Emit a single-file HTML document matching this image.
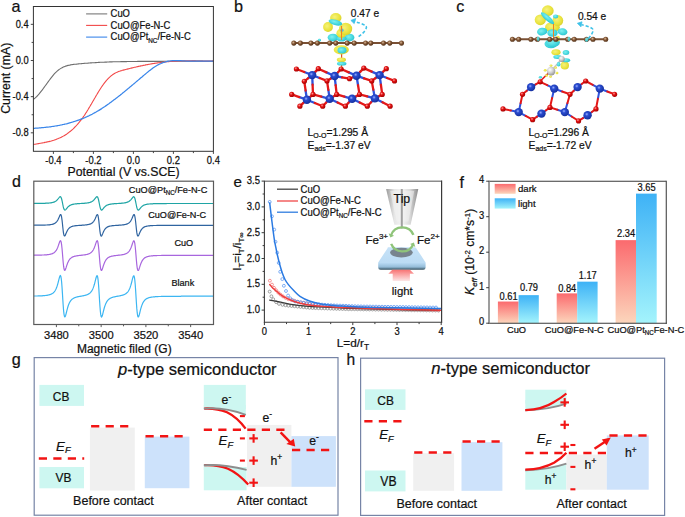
<!DOCTYPE html>
<html><head><meta charset="utf-8"><style>
html,body{margin:0;padding:0;background:#fff;}
svg{display:block;}
text{font-family:"Liberation Sans",sans-serif;stroke:#111;stroke-width:0.22px;paint-order:stroke;}
</style></head><body>
<svg width="685" height="517" viewBox="0 0 685 517">
<defs><radialGradient id="gCu" cx="0.4" cy="0.38" r="0.68"><stop offset="0" stop-color="#9ab0ff"/><stop offset="0.3" stop-color="#2a4cd0"/><stop offset="1" stop-color="#122c98"/></radialGradient>
<radialGradient id="gO" cx="0.38" cy="0.35" r="0.7"><stop offset="0" stop-color="#ff9a9a"/><stop offset="0.4" stop-color="#e01010"/><stop offset="1" stop-color="#a00000"/></radialGradient>
<radialGradient id="gC" cx="0.4" cy="0.38" r="0.7"><stop offset="0" stop-color="#d8b898"/><stop offset="0.45" stop-color="#7e5232"/><stop offset="1" stop-color="#4a2c14"/></radialGradient>
<radialGradient id="gPt" cx="0.38" cy="0.35" r="0.7"><stop offset="0" stop-color="#ffffff"/><stop offset="0.5" stop-color="#d0d0d0"/><stop offset="1" stop-color="#909090"/></radialGradient>
<radialGradient id="gY" cx="0.4" cy="0.4" r="0.65"><stop offset="0" stop-color="#f6f27a"/><stop offset="0.7" stop-color="#e8e23a"/><stop offset="1" stop-color="#d8cf30"/></radialGradient>
<radialGradient id="gCy" cx="0.4" cy="0.4" r="0.65"><stop offset="0" stop-color="#7ff0f0"/><stop offset="0.7" stop-color="#3fd4dc"/><stop offset="1" stop-color="#30c0cc"/></radialGradient><linearGradient id="gTip" x1="0" x2="1" y1="0" y2="0"><stop offset="0" stop-color="#9a9a9a"/><stop offset="0.25" stop-color="#e6e6e6"/><stop offset="0.5" stop-color="#f4f4f4"/><stop offset="0.75" stop-color="#d8d8d8"/><stop offset="1" stop-color="#8a8a8a"/></linearGradient>
<linearGradient id="gPlat" x1="0" x2="0" y1="0" y2="1"><stop offset="0" stop-color="#c6e2f8"/><stop offset="0.68" stop-color="#bcdcf4"/><stop offset="0.72" stop-color="#b4d6f0"/><stop offset="0.88" stop-color="#94bcd8"/><stop offset="1" stop-color="#34505f"/></linearGradient>
<linearGradient id="gLight" x1="0" x2="0" y1="0" y2="1"><stop offset="0" stop-color="#f87474"/><stop offset="1" stop-color="#fde6e6"/></linearGradient><linearGradient id="gDark" x1="0" x2="0" y1="0" y2="1"><stop offset="0" stop-color="#fb6a6e"/><stop offset="1" stop-color="#fcd6bc"/></linearGradient>
<linearGradient id="gLite" x1="0" x2="0" y1="0" y2="1"><stop offset="0" stop-color="#3eb2f6"/><stop offset="1" stop-color="#a4f4fc"/></linearGradient></defs><rect width="685" height="517" fill="#fff"/>
<polyline points="33.7,99.1 34.5,98.5 35.3,97.9 36.1,97.1 36.9,96.3 37.7,95.5 38.5,94.6 39.3,93.7 40.1,92.7 40.9,91.7 41.7,90.7 42.5,89.6 43.3,88.5 44.1,87.4 44.9,86.3 45.7,85.2 46.5,84.1 47.3,83.0 48.1,81.9 48.9,80.8 49.7,79.7 50.5,78.6 51.3,77.6 52.1,76.6 52.9,75.6 53.7,74.6 54.5,73.7 55.3,72.9 56.1,72.1 56.9,71.4 57.7,70.7 58.5,70.0 59.3,69.4 60.1,68.9 60.9,68.4 61.7,67.9 62.5,67.5 63.3,67.1 64.1,66.7 64.9,66.4 65.7,66.1 66.5,65.9 67.3,65.6 68.1,65.4 68.9,65.2 69.7,65.1 70.5,64.9 71.3,64.8 72.1,64.6 72.9,64.5 73.7,64.4 74.5,64.3 75.3,64.2 76.1,64.2 76.9,64.1 77.7,64.0 78.5,63.9 79.3,63.8 80.1,63.8 80.9,63.7 81.7,63.6 82.5,63.5 83.3,63.5 84.1,63.4 84.9,63.3 85.7,63.3 86.5,63.2 87.3,63.2 88.1,63.1 88.9,63.0 89.7,63.0 90.5,62.9 91.3,62.9 92.1,62.8 92.9,62.8 93.7,62.7 94.5,62.7 95.3,62.6 96.1,62.6 96.9,62.5 97.7,62.5 98.5,62.4 99.3,62.4 100.1,62.3 100.9,62.3 101.7,62.3 102.5,62.2 103.3,62.2 104.1,62.2 104.9,62.1 105.7,62.1 106.5,62.1 107.3,62.0 108.1,62.0 108.9,62.0 109.7,61.9 110.5,61.9 111.3,61.9 112.1,61.9 112.9,61.8 113.7,61.8 114.5,61.8 115.3,61.8 116.1,61.8 116.9,61.7 117.7,61.7 118.5,61.7 119.3,61.7 120.1,61.7 120.9,61.6 121.7,61.6 122.5,61.6 123.3,61.6 124.1,61.6 124.9,61.6 125.7,61.6 126.5,61.6 127.3,61.5 128.1,61.5 128.9,61.5 129.7,61.5 130.5,61.5 131.3,61.5 132.1,61.5 132.9,61.5 133.7,61.5 134.5,61.5 135.3,61.5 136.1,61.5 136.9,61.5 137.7,61.4 138.5,61.4 139.3,61.4 140.1,61.4 140.9,61.4 141.7,61.4 142.5,61.4 143.3,61.4 144.1,61.4 144.9,61.4 145.7,61.4 146.5,61.4 147.3,61.4 148.1,61.4 148.9,61.4 149.7,61.4 150.5,61.4 151.3,61.4 152.1,61.4 152.9,61.4 153.7,61.4 154.5,61.4 155.3,61.4 156.1,61.4 156.9,61.4 157.7,61.4 158.5,61.4 159.3,61.4 160.1,61.4 160.9,61.4 161.7,61.4 162.5,61.4 163.3,61.4 164.1,61.3 164.9,61.3 165.7,61.3 166.5,61.3 167.3,61.3 168.1,61.3 168.9,61.3 169.7,61.3 170.5,61.3 171.3,61.3 172.1,61.3 172.9,61.3 173.7,61.3 174.5,61.3 175.3,61.3 176.1,61.3 176.9,61.3 177.7,61.2 178.5,61.2 179.3,61.2 180.1,61.2 180.9,61.2 181.7,61.2 182.5,61.2 183.3,61.2 184.1,61.2 184.9,61.2 185.7,61.2 186.5,61.2 187.3,61.2 188.1,61.2 188.9,61.2 189.7,61.2 190.5,61.2 191.3,61.2 192.1,61.1 192.9,61.1 193.7,61.1 194.5,61.1 195.3,61.1 196.1,61.1 196.9,61.1 197.7,61.1 198.5,61.1 199.3,61.1 200.1,61.1 200.9,61.1 201.7,61.1 202.5,61.1 203.3,61.2 204.1,61.2 204.9,61.2 205.7,61.2 206.5,61.2 207.3,61.2 208.1,61.2 208.9,61.2 209.7,61.2 210.5,61.2 211.3,61.2 212.1,61.2 212.9,61.3" fill="none" stroke="#6e6e6e" stroke-width="1.1" stroke-linejoin="round" stroke-linecap="round" />
<polyline points="33.7,144.5 34.5,144.3 35.3,144.2 36.1,144.0 36.9,143.9 37.7,143.7 38.5,143.6 39.3,143.5 40.1,143.3 40.9,143.2 41.7,143.0 42.5,142.9 43.3,142.7 44.1,142.6 44.9,142.4 45.7,142.3 46.5,142.1 47.3,141.9 48.1,141.8 48.9,141.6 49.7,141.4 50.5,141.2 51.3,141.0 52.1,140.7 52.9,140.5 53.7,140.3 54.5,140.0 55.3,139.7 56.1,139.4 56.9,139.1 57.7,138.8 58.5,138.5 59.3,138.1 60.1,137.8 60.9,137.4 61.7,137.0 62.5,136.6 63.3,136.1 64.1,135.7 64.9,135.2 65.7,134.7 66.5,134.2 67.3,133.6 68.1,133.0 68.9,132.4 69.7,131.8 70.5,131.2 71.3,130.5 72.1,129.8 72.9,129.1 73.7,128.3 74.5,127.5 75.3,126.7 76.1,125.9 76.9,125.0 77.7,124.1 78.5,123.2 79.3,122.2 80.1,121.2 80.9,120.2 81.7,119.1 82.5,118.1 83.3,116.9 84.1,115.8 84.9,114.6 85.7,113.3 86.5,112.1 87.3,110.8 88.1,109.5 88.9,108.1 89.7,106.8 90.5,105.4 91.3,104.1 92.1,102.7 92.9,101.3 93.7,99.9 94.5,98.5 95.3,97.2 96.1,95.8 96.9,94.5 97.7,93.1 98.5,91.8 99.3,90.5 100.1,89.2 100.9,88.0 101.7,86.8 102.5,85.6 103.3,84.5 104.1,83.4 104.9,82.4 105.7,81.4 106.5,80.4 107.3,79.5 108.1,78.7 108.9,77.8 109.7,77.1 110.5,76.4 111.3,75.7 112.1,75.1 112.9,74.5 113.7,74.0 114.5,73.5 115.3,73.1 116.1,72.6 116.9,72.3 117.7,71.9 118.5,71.6 119.3,71.3 120.1,71.1 120.9,70.8 121.7,70.6 122.5,70.3 123.3,70.1 124.1,69.9 124.9,69.7 125.7,69.5 126.5,69.3 127.3,69.1 128.1,68.9 128.9,68.7 129.7,68.5 130.5,68.3 131.3,68.1 132.1,67.9 132.9,67.7 133.7,67.5 134.5,67.3 135.3,67.2 136.1,67.0 136.9,66.8 137.7,66.6 138.5,66.4 139.3,66.3 140.1,66.1 140.9,65.9 141.7,65.7 142.5,65.6 143.3,65.4 144.1,65.2 144.9,65.1 145.7,64.9 146.5,64.8 147.3,64.6 148.1,64.5 148.9,64.3 149.7,64.2 150.5,64.0 151.3,63.9 152.1,63.8 152.9,63.6 153.7,63.5 154.5,63.4 155.3,63.3 156.1,63.1 156.9,63.0 157.7,62.9 158.5,62.8 159.3,62.7 160.1,62.6 160.9,62.5 161.7,62.4 162.5,62.3 163.3,62.2 164.1,62.1 164.9,62.0 165.7,61.9 166.5,61.8 167.3,61.8 168.1,61.7 168.9,61.6 169.7,61.5 170.5,61.5 171.3,61.4 172.1,61.4 172.9,61.3 173.7,61.3 174.5,61.2 175.3,61.2 176.1,61.1 176.9,61.1 177.7,61.0 178.5,61.0 179.3,61.0 180.1,61.0 180.9,60.9 181.7,60.9 182.5,60.9 183.3,60.9 184.1,60.9 184.9,60.9 185.7,60.9 186.5,60.8 187.3,60.8 188.1,60.9 188.9,60.9 189.7,60.9 190.5,60.9 191.3,60.9 192.1,60.9 192.9,60.9 193.7,60.9 194.5,60.9 195.3,60.9 196.1,61.0 196.9,61.0 197.7,61.0 198.5,61.0 199.3,61.0 200.1,61.0 200.9,61.1 201.7,61.1 202.5,61.1 203.3,61.1 204.1,61.1 204.9,61.1 205.7,61.1 206.5,61.1 207.3,61.1 208.1,61.1 208.9,61.1 209.7,61.0 210.5,61.0 211.3,61.0 212.1,61.0 212.9,60.9" fill="none" stroke="#f24848" stroke-width="1.1" stroke-linejoin="round" stroke-linecap="round" />
<polyline points="33.7,128.3 34.5,128.3 35.3,128.2 36.1,128.2 36.9,128.1 37.7,128.0 38.5,128.0 39.3,127.9 40.1,127.9 40.9,127.8 41.7,127.7 42.5,127.6 43.3,127.6 44.1,127.5 44.9,127.4 45.7,127.3 46.5,127.2 47.3,127.1 48.1,127.1 48.9,127.0 49.7,126.9 50.5,126.8 51.3,126.6 52.1,126.5 52.9,126.4 53.7,126.3 54.5,126.2 55.3,126.0 56.1,125.9 56.9,125.8 57.7,125.6 58.5,125.5 59.3,125.3 60.1,125.2 60.9,125.0 61.7,124.9 62.5,124.7 63.3,124.5 64.1,124.3 64.9,124.1 65.7,124.0 66.5,123.8 67.3,123.6 68.1,123.3 68.9,123.1 69.7,122.9 70.5,122.7 71.3,122.5 72.1,122.2 72.9,122.0 73.7,121.7 74.5,121.5 75.3,121.2 76.1,121.0 76.9,120.7 77.7,120.4 78.5,120.1 79.3,119.8 80.1,119.5 80.9,119.2 81.7,118.9 82.5,118.6 83.3,118.3 84.1,117.9 84.9,117.6 85.7,117.2 86.5,116.9 87.3,116.5 88.1,116.1 88.9,115.8 89.7,115.4 90.5,115.0 91.3,114.6 92.1,114.2 92.9,113.7 93.7,113.3 94.5,112.9 95.3,112.4 96.1,112.0 96.9,111.5 97.7,111.0 98.5,110.6 99.3,110.1 100.1,109.6 100.9,109.1 101.7,108.6 102.5,108.0 103.3,107.5 104.1,107.0 104.9,106.5 105.7,105.9 106.5,105.4 107.3,104.8 108.1,104.2 108.9,103.7 109.7,103.1 110.5,102.5 111.3,101.9 112.1,101.3 112.9,100.7 113.7,100.1 114.5,99.5 115.3,98.9 116.1,98.3 116.9,97.7 117.7,97.1 118.5,96.4 119.3,95.8 120.1,95.2 120.9,94.5 121.7,93.9 122.5,93.2 123.3,92.6 124.1,91.9 124.9,91.3 125.7,90.6 126.5,90.0 127.3,89.3 128.1,88.6 128.9,88.0 129.7,87.3 130.5,86.6 131.3,86.0 132.1,85.3 132.9,84.6 133.7,83.9 134.5,83.3 135.3,82.6 136.1,81.9 136.9,81.2 137.7,80.6 138.5,79.9 139.3,79.2 140.1,78.5 140.9,77.8 141.7,77.2 142.5,76.5 143.3,75.8 144.1,75.1 144.9,74.4 145.7,73.8 146.5,73.1 147.3,72.4 148.1,71.8 148.9,71.1 149.7,70.5 150.5,69.9 151.3,69.3 152.1,68.7 152.9,68.1 153.7,67.5 154.5,67.0 155.3,66.5 156.1,66.0 156.9,65.5 157.7,65.0 158.5,64.6 159.3,64.2 160.1,63.8 160.9,63.5 161.7,63.1 162.5,62.8 163.3,62.5 164.1,62.3 164.9,62.0 165.7,61.8 166.5,61.6 167.3,61.4 168.1,61.2 168.9,61.1 169.7,61.0 170.5,60.9 171.3,60.8 172.1,60.7 172.9,60.7 173.7,60.6 174.5,60.6 175.3,60.6 176.1,60.6 176.9,60.6 177.7,60.6 178.5,60.6 179.3,60.6 180.1,60.7 180.9,60.7 181.7,60.8 182.5,60.8 183.3,60.8 184.1,60.9 184.9,60.9 185.7,61.0 186.5,61.0 187.3,61.0 188.1,61.1 188.9,61.1 189.7,61.1 190.5,61.1 191.3,61.1 192.1,61.2 192.9,61.2 193.7,61.2 194.5,61.2 195.3,61.2 196.1,61.1 196.9,61.1 197.7,61.1 198.5,61.1 199.3,61.1 200.1,61.1 200.9,61.1 201.7,61.1 202.5,61.1 203.3,61.0 204.1,61.0 204.9,61.0 205.7,61.0 206.5,61.0 207.3,61.0 208.1,61.0 208.9,61.0 209.7,61.0 210.5,61.0 211.3,61.0 212.1,61.0 212.9,61.0" fill="none" stroke="#3a86ea" stroke-width="1.25" stroke-linejoin="round" stroke-linecap="round" />
<rect x="33.4" y="6.5" width="180.0" height="144.8" fill="none" stroke="#333" stroke-width="1"/>
<line x1="53.40" y1="151.30" x2="53.40" y2="153.90" stroke="#333" stroke-width="0.9" />
<line x1="73.40" y1="151.30" x2="73.40" y2="153.10" stroke="#333" stroke-width="0.9" />
<line x1="93.40" y1="151.30" x2="93.40" y2="153.90" stroke="#333" stroke-width="0.9" />
<line x1="113.40" y1="151.30" x2="113.40" y2="153.10" stroke="#333" stroke-width="0.9" />
<line x1="133.40" y1="151.30" x2="133.40" y2="153.90" stroke="#333" stroke-width="0.9" />
<line x1="153.40" y1="151.30" x2="153.40" y2="153.10" stroke="#333" stroke-width="0.9" />
<line x1="173.40" y1="151.30" x2="173.40" y2="153.90" stroke="#333" stroke-width="0.9" />
<line x1="193.40" y1="151.30" x2="193.40" y2="153.10" stroke="#333" stroke-width="0.9" />
<line x1="213.40" y1="151.30" x2="213.40" y2="153.90" stroke="#333" stroke-width="0.9" />
<line x1="30.80" y1="24.34" x2="33.40" y2="24.34" stroke="#333" stroke-width="0.9" />
<line x1="31.60" y1="42.42" x2="33.40" y2="42.42" stroke="#333" stroke-width="0.9" />
<line x1="30.80" y1="60.50" x2="33.40" y2="60.50" stroke="#333" stroke-width="0.9" />
<line x1="31.60" y1="78.58" x2="33.40" y2="78.58" stroke="#333" stroke-width="0.9" />
<line x1="30.80" y1="96.66" x2="33.40" y2="96.66" stroke="#333" stroke-width="0.9" />
<line x1="31.60" y1="114.74" x2="33.40" y2="114.74" stroke="#333" stroke-width="0.9" />
<line x1="30.80" y1="132.82" x2="33.40" y2="132.82" stroke="#333" stroke-width="0.9" />
<text transform="translate(53.4,163.7) scale(1.0,1.14)" font-size="9.4" text-anchor="middle" fill="#111" >-0.4</text>
<text transform="translate(93.4,163.7) scale(1.0,1.14)" font-size="9.4" text-anchor="middle" fill="#111" >-0.2</text>
<text transform="translate(133.4,163.7) scale(1.0,1.14)" font-size="9.4" text-anchor="middle" fill="#111" >0.0</text>
<text transform="translate(173.4,163.7) scale(1.0,1.14)" font-size="9.4" text-anchor="middle" fill="#111" >0.2</text>
<text transform="translate(213.4,163.7) scale(1.0,1.14)" font-size="9.4" text-anchor="middle" fill="#111" >0.4</text>
<text transform="translate(28.6,27.5) scale(1.0,1.14)" font-size="9.3" text-anchor="end" fill="#111" >0.4</text>
<text transform="translate(28.6,63.7) scale(1.0,1.14)" font-size="9.3" text-anchor="end" fill="#111" >0.0</text>
<text transform="translate(28.6,99.9) scale(1.0,1.14)" font-size="9.3" text-anchor="end" fill="#111" >-0.4</text>
<text transform="translate(28.6,136.0) scale(1.0,1.14)" font-size="9.3" text-anchor="end" fill="#111" >-0.8</text>
<text x="123.6" y="175.8" font-size="12.3" text-anchor="middle" fill="#111" >Potential (V vs.SCE)</text>
<text transform="translate(10.2,78.3) rotate(-90)" font-size="12.3" text-anchor="middle" fill="#111">Current (mA)</text>
<line x1="86.10" y1="13.90" x2="107.20" y2="13.90" stroke="#777" stroke-width="1.1" />
<line x1="86.10" y1="25.40" x2="107.20" y2="25.40" stroke="#f24848" stroke-width="1.1" />
<line x1="86.10" y1="37.10" x2="107.20" y2="37.10" stroke="#3a86ea" stroke-width="1.1" />
<text transform="translate(110.6,17.1) scale(1.0,1.07)" font-size="9.4" text-anchor="start" fill="#111" >CuO</text>
<text transform="translate(110.6,28.7) scale(1.0,1.07)" font-size="9.4" text-anchor="start" fill="#111" >CuO@Fe-N-C</text>
<text transform="translate(110.6,40.3) scale(1.0,1.07)" font-size="9.4" text-anchor="start" fill="#111" >CuO@Pt<tspan font-size="6.3" dy="2.2">NC</tspan><tspan dy="-2.2">/Fe-N-C</tspan></text>
<text x="11.5" y="12.0" font-size="16.2" text-anchor="start" fill="#111" >a</text>
<text x="234.0" y="12.0" font-size="16.2" text-anchor="start" fill="#111" >b</text>
<line x1="312.20" y1="75.10" x2="304.30" y2="72.05" stroke="#2f52dc" stroke-width="2.3" stroke-linecap="round"/>
<line x1="304.30" y1="72.05" x2="296.40" y2="69.00" stroke="#e41818" stroke-width="2.3" stroke-linecap="round"/>
<line x1="312.20" y1="75.10" x2="315.25" y2="71.90" stroke="#2f52dc" stroke-width="2.3" stroke-linecap="round"/>
<line x1="315.25" y1="71.90" x2="318.30" y2="68.70" stroke="#e41818" stroke-width="2.3" stroke-linecap="round"/>
<line x1="312.20" y1="75.10" x2="308.25" y2="78.20" stroke="#2f52dc" stroke-width="2.3" stroke-linecap="round"/>
<line x1="308.25" y1="78.20" x2="304.30" y2="81.30" stroke="#e41818" stroke-width="2.3" stroke-linecap="round"/>
<line x1="312.20" y1="75.10" x2="319.60" y2="78.00" stroke="#2f52dc" stroke-width="2.3" stroke-linecap="round"/>
<line x1="319.60" y1="78.00" x2="327.00" y2="80.90" stroke="#e41818" stroke-width="2.3" stroke-linecap="round"/>
<line x1="312.20" y1="75.10" x2="312.60" y2="84.75" stroke="#2f52dc" stroke-width="2.3" stroke-linecap="round"/>
<line x1="312.60" y1="84.75" x2="313.00" y2="94.40" stroke="#e41818" stroke-width="2.3" stroke-linecap="round"/>
<line x1="334.60" y1="76.00" x2="326.45" y2="72.35" stroke="#2f52dc" stroke-width="2.3" stroke-linecap="round"/>
<line x1="326.45" y1="72.35" x2="318.30" y2="68.70" stroke="#e41818" stroke-width="2.3" stroke-linecap="round"/>
<line x1="334.60" y1="76.00" x2="337.85" y2="72.50" stroke="#2f52dc" stroke-width="2.3" stroke-linecap="round"/>
<line x1="337.85" y1="72.50" x2="341.10" y2="69.00" stroke="#e41818" stroke-width="2.3" stroke-linecap="round"/>
<line x1="334.60" y1="76.00" x2="330.80" y2="78.45" stroke="#2f52dc" stroke-width="2.3" stroke-linecap="round"/>
<line x1="330.80" y1="78.45" x2="327.00" y2="80.90" stroke="#e41818" stroke-width="2.3" stroke-linecap="round"/>
<line x1="334.60" y1="76.00" x2="342.05" y2="77.35" stroke="#2f52dc" stroke-width="2.3" stroke-linecap="round"/>
<line x1="342.05" y1="77.35" x2="349.50" y2="78.70" stroke="#e41818" stroke-width="2.3" stroke-linecap="round"/>
<line x1="334.60" y1="76.00" x2="335.65" y2="85.20" stroke="#2f52dc" stroke-width="2.3" stroke-linecap="round"/>
<line x1="335.65" y1="85.20" x2="336.70" y2="94.40" stroke="#e41818" stroke-width="2.3" stroke-linecap="round"/>
<line x1="356.50" y1="75.70" x2="348.80" y2="72.35" stroke="#2f52dc" stroke-width="2.3" stroke-linecap="round"/>
<line x1="348.80" y1="72.35" x2="341.10" y2="69.00" stroke="#e41818" stroke-width="2.3" stroke-linecap="round"/>
<line x1="356.50" y1="75.70" x2="360.15" y2="71.90" stroke="#2f52dc" stroke-width="2.3" stroke-linecap="round"/>
<line x1="360.15" y1="71.90" x2="363.80" y2="68.10" stroke="#e41818" stroke-width="2.3" stroke-linecap="round"/>
<line x1="356.50" y1="75.70" x2="353.00" y2="77.20" stroke="#2f52dc" stroke-width="2.3" stroke-linecap="round"/>
<line x1="353.00" y1="77.20" x2="349.50" y2="78.70" stroke="#e41818" stroke-width="2.3" stroke-linecap="round"/>
<line x1="356.50" y1="75.70" x2="364.10" y2="78.30" stroke="#2f52dc" stroke-width="2.3" stroke-linecap="round"/>
<line x1="364.10" y1="78.30" x2="371.70" y2="80.90" stroke="#e41818" stroke-width="2.3" stroke-linecap="round"/>
<line x1="356.50" y1="75.70" x2="358.00" y2="85.05" stroke="#2f52dc" stroke-width="2.3" stroke-linecap="round"/>
<line x1="358.00" y1="85.05" x2="359.50" y2="94.40" stroke="#e41818" stroke-width="2.3" stroke-linecap="round"/>
<line x1="379.60" y1="75.10" x2="371.70" y2="71.60" stroke="#2f52dc" stroke-width="2.3" stroke-linecap="round"/>
<line x1="371.70" y1="71.60" x2="363.80" y2="68.10" stroke="#e41818" stroke-width="2.3" stroke-linecap="round"/>
<line x1="379.60" y1="75.10" x2="382.95" y2="71.90" stroke="#2f52dc" stroke-width="2.3" stroke-linecap="round"/>
<line x1="382.95" y1="71.90" x2="386.30" y2="68.70" stroke="#e41818" stroke-width="2.3" stroke-linecap="round"/>
<line x1="379.60" y1="75.10" x2="375.65" y2="78.00" stroke="#2f52dc" stroke-width="2.3" stroke-linecap="round"/>
<line x1="375.65" y1="78.00" x2="371.70" y2="80.90" stroke="#e41818" stroke-width="2.3" stroke-linecap="round"/>
<line x1="379.60" y1="75.10" x2="387.05" y2="78.00" stroke="#2f52dc" stroke-width="2.3" stroke-linecap="round"/>
<line x1="387.05" y1="78.00" x2="394.50" y2="80.90" stroke="#e41818" stroke-width="2.3" stroke-linecap="round"/>
<line x1="379.60" y1="75.10" x2="380.90" y2="84.75" stroke="#2f52dc" stroke-width="2.3" stroke-linecap="round"/>
<line x1="380.90" y1="84.75" x2="382.20" y2="94.40" stroke="#e41818" stroke-width="2.3" stroke-linecap="round"/>
<line x1="306.90" y1="99.70" x2="305.60" y2="90.50" stroke="#2f52dc" stroke-width="2.3" stroke-linecap="round"/>
<line x1="305.60" y1="90.50" x2="304.30" y2="81.30" stroke="#e41818" stroke-width="2.3" stroke-linecap="round"/>
<line x1="306.90" y1="99.70" x2="309.95" y2="97.05" stroke="#2f52dc" stroke-width="2.3" stroke-linecap="round"/>
<line x1="309.95" y1="97.05" x2="313.00" y2="94.40" stroke="#e41818" stroke-width="2.3" stroke-linecap="round"/>
<line x1="306.90" y1="99.70" x2="299.30" y2="97.05" stroke="#2f52dc" stroke-width="2.3" stroke-linecap="round"/>
<line x1="299.30" y1="97.05" x2="291.70" y2="94.40" stroke="#e41818" stroke-width="2.3" stroke-linecap="round"/>
<line x1="306.90" y1="99.70" x2="303.40" y2="102.95" stroke="#2f52dc" stroke-width="2.3" stroke-linecap="round"/>
<line x1="303.40" y1="102.95" x2="299.90" y2="106.20" stroke="#e41818" stroke-width="2.3" stroke-linecap="round"/>
<line x1="306.90" y1="99.70" x2="314.80" y2="102.95" stroke="#2f52dc" stroke-width="2.3" stroke-linecap="round"/>
<line x1="314.80" y1="102.95" x2="322.70" y2="106.20" stroke="#e41818" stroke-width="2.3" stroke-linecap="round"/>
<line x1="329.70" y1="98.80" x2="328.35" y2="89.85" stroke="#2f52dc" stroke-width="2.3" stroke-linecap="round"/>
<line x1="328.35" y1="89.85" x2="327.00" y2="80.90" stroke="#e41818" stroke-width="2.3" stroke-linecap="round"/>
<line x1="329.70" y1="98.80" x2="321.35" y2="96.60" stroke="#2f52dc" stroke-width="2.3" stroke-linecap="round"/>
<line x1="321.35" y1="96.60" x2="313.00" y2="94.40" stroke="#e41818" stroke-width="2.3" stroke-linecap="round"/>
<line x1="329.70" y1="98.80" x2="333.20" y2="96.60" stroke="#2f52dc" stroke-width="2.3" stroke-linecap="round"/>
<line x1="333.20" y1="96.60" x2="336.70" y2="94.40" stroke="#e41818" stroke-width="2.3" stroke-linecap="round"/>
<line x1="329.70" y1="98.80" x2="326.20" y2="102.50" stroke="#2f52dc" stroke-width="2.3" stroke-linecap="round"/>
<line x1="326.20" y1="102.50" x2="322.70" y2="106.20" stroke="#e41818" stroke-width="2.3" stroke-linecap="round"/>
<line x1="329.70" y1="98.80" x2="337.55" y2="102.50" stroke="#2f52dc" stroke-width="2.3" stroke-linecap="round"/>
<line x1="337.55" y1="102.50" x2="345.40" y2="106.20" stroke="#e41818" stroke-width="2.3" stroke-linecap="round"/>
<line x1="352.10" y1="98.80" x2="344.40" y2="96.60" stroke="#2f52dc" stroke-width="2.3" stroke-linecap="round"/>
<line x1="344.40" y1="96.60" x2="336.70" y2="94.40" stroke="#e41818" stroke-width="2.3" stroke-linecap="round"/>
<line x1="352.10" y1="98.80" x2="355.80" y2="96.60" stroke="#2f52dc" stroke-width="2.3" stroke-linecap="round"/>
<line x1="355.80" y1="96.60" x2="359.50" y2="94.40" stroke="#e41818" stroke-width="2.3" stroke-linecap="round"/>
<line x1="352.10" y1="98.80" x2="348.75" y2="102.50" stroke="#2f52dc" stroke-width="2.3" stroke-linecap="round"/>
<line x1="348.75" y1="102.50" x2="345.40" y2="106.20" stroke="#e41818" stroke-width="2.3" stroke-linecap="round"/>
<line x1="352.10" y1="98.80" x2="359.70" y2="102.50" stroke="#2f52dc" stroke-width="2.3" stroke-linecap="round"/>
<line x1="359.70" y1="102.50" x2="367.30" y2="106.20" stroke="#e41818" stroke-width="2.3" stroke-linecap="round"/>
<line x1="374.90" y1="98.40" x2="373.30" y2="89.65" stroke="#2f52dc" stroke-width="2.3" stroke-linecap="round"/>
<line x1="373.30" y1="89.65" x2="371.70" y2="80.90" stroke="#e41818" stroke-width="2.3" stroke-linecap="round"/>
<line x1="374.90" y1="98.40" x2="367.20" y2="96.40" stroke="#2f52dc" stroke-width="2.3" stroke-linecap="round"/>
<line x1="367.20" y1="96.40" x2="359.50" y2="94.40" stroke="#e41818" stroke-width="2.3" stroke-linecap="round"/>
<line x1="374.90" y1="98.40" x2="378.55" y2="96.40" stroke="#2f52dc" stroke-width="2.3" stroke-linecap="round"/>
<line x1="378.55" y1="96.40" x2="382.20" y2="94.40" stroke="#e41818" stroke-width="2.3" stroke-linecap="round"/>
<line x1="374.90" y1="98.40" x2="371.10" y2="102.30" stroke="#2f52dc" stroke-width="2.3" stroke-linecap="round"/>
<line x1="371.10" y1="102.30" x2="367.30" y2="106.20" stroke="#e41818" stroke-width="2.3" stroke-linecap="round"/>
<line x1="374.90" y1="98.40" x2="382.50" y2="102.30" stroke="#2f52dc" stroke-width="2.3" stroke-linecap="round"/>
<line x1="382.50" y1="102.30" x2="390.10" y2="106.20" stroke="#e41818" stroke-width="2.3" stroke-linecap="round"/>
<circle cx="363.8" cy="68.1" r="2.6" fill="url(#gO)"/>
<circle cx="318.3" cy="68.7" r="2.6" fill="url(#gO)"/>
<circle cx="386.3" cy="68.7" r="2.6" fill="url(#gO)"/>
<circle cx="296.4" cy="69.0" r="2.6" fill="url(#gO)"/>
<circle cx="341.1" cy="69.0" r="2.6" fill="url(#gO)"/>
<circle cx="312.2" cy="75.1" r="4.2" fill="url(#gCu)"/>
<circle cx="379.6" cy="75.1" r="4.2" fill="url(#gCu)"/>
<circle cx="356.5" cy="75.7" r="4.2" fill="url(#gCu)"/>
<circle cx="334.6" cy="76.0" r="4.2" fill="url(#gCu)"/>
<circle cx="349.5" cy="78.7" r="2.6" fill="url(#gO)"/>
<circle cx="327.0" cy="80.9" r="2.6" fill="url(#gO)"/>
<circle cx="371.7" cy="80.9" r="2.6" fill="url(#gO)"/>
<circle cx="394.5" cy="80.9" r="2.6" fill="url(#gO)"/>
<circle cx="304.3" cy="81.3" r="2.6" fill="url(#gO)"/>
<circle cx="313.0" cy="94.4" r="2.6" fill="url(#gO)"/>
<circle cx="336.7" cy="94.4" r="2.6" fill="url(#gO)"/>
<circle cx="359.5" cy="94.4" r="2.6" fill="url(#gO)"/>
<circle cx="382.2" cy="94.4" r="2.6" fill="url(#gO)"/>
<circle cx="291.7" cy="94.4" r="2.6" fill="url(#gO)"/>
<circle cx="374.9" cy="98.4" r="4.2" fill="url(#gCu)"/>
<circle cx="329.7" cy="98.8" r="4.2" fill="url(#gCu)"/>
<circle cx="352.1" cy="98.8" r="4.2" fill="url(#gCu)"/>
<circle cx="306.9" cy="99.7" r="4.2" fill="url(#gCu)"/>
<circle cx="299.9" cy="106.2" r="2.6" fill="url(#gO)"/>
<circle cx="322.7" cy="106.2" r="2.6" fill="url(#gO)"/>
<circle cx="345.4" cy="106.2" r="2.6" fill="url(#gO)"/>
<circle cx="367.3" cy="106.2" r="2.6" fill="url(#gO)"/>
<circle cx="390.1" cy="106.2" r="2.6" fill="url(#gO)"/>
<line x1="341.60" y1="53.00" x2="341.60" y2="68.00" stroke="#e05020" stroke-width="1.2" />
<ellipse cx="341.4" cy="59.7" rx="4.6" ry="2.3" fill="url(#gY)" transform="rotate(0 341.4 59.7)" opacity="1"/>
<ellipse cx="341.7" cy="63.7" rx="4.8" ry="1.9" fill="url(#gCy)" transform="rotate(0 341.7 63.7)" opacity="1"/>
<ellipse cx="341.3" cy="49.8" rx="7.6" ry="4.6" fill="url(#gY)" transform="rotate(0 341.3 49.8)" opacity="1"/>
<ellipse cx="342.0" cy="50.3" rx="4.5" ry="3.3" fill="url(#gCy)" transform="rotate(0 342.0 50.3)" opacity="1"/>
<ellipse cx="333.0" cy="37.6" rx="5.4" ry="3.9" fill="url(#gCy)" transform="rotate(0 333.0 37.6)" opacity="1"/>
<ellipse cx="349.6" cy="37.6" rx="4.8" ry="3.9" fill="url(#gCy)" transform="rotate(0 349.6 37.6)" opacity="1"/>
<ellipse cx="341.5" cy="38.6" rx="5" ry="3" fill="url(#gCy)" transform="rotate(0 341.5 38.6)" opacity="1"/>
<ellipse cx="319.4" cy="40.2" rx="1.6" ry="1.4" fill="url(#gCy)" transform="rotate(0 319.4 40.2)" opacity="1"/>
<ellipse cx="341.4" cy="33.2" rx="5" ry="4.6" fill="url(#gY)" transform="rotate(0 341.4 33.2)" opacity="1"/>
<ellipse cx="328.0" cy="27.0" rx="4.9" ry="4.9" fill="url(#gY)" transform="rotate(0 328.0 27.0)" opacity="1"/>
<ellipse cx="345.6" cy="29.0" rx="6.6" ry="6.2" fill="url(#gY)" transform="rotate(0 345.6 29.0)" opacity="1"/>
<ellipse cx="335.8" cy="17.9" rx="5.7" ry="4.8" fill="url(#gY)" transform="rotate(0 335.8 17.9)" opacity="1"/>
<ellipse cx="335.4" cy="22.4" rx="7" ry="2.8" fill="url(#gCy)" transform="rotate(15 335.4 22.4)" opacity="1"/>
<ellipse cx="342.0" cy="30.2" rx="1.6" ry="1.6" fill="#58b8e0" transform="rotate(0 342.0 30.2)" opacity="1"/>
<line x1="341.50" y1="26.00" x2="341.50" y2="40.00" stroke="#f08020" stroke-width="1.1" />
<line x1="293.00" y1="43.10" x2="402.00" y2="43.10" stroke="#7a5034" stroke-width="2.0" />
<circle cx="293.8" cy="43.1" r="2.55" fill="url(#gC)"/>
<circle cx="300.4" cy="43.1" r="2.55" fill="url(#gC)"/>
<circle cx="310.9" cy="43.1" r="2.55" fill="url(#gC)"/>
<circle cx="317.4" cy="43.1" r="2.55" fill="url(#gC)"/>
<circle cx="329.7" cy="43.1" r="2.55" fill="url(#gC)"/>
<circle cx="335.8" cy="43.1" r="2.55" fill="url(#gC)"/>
<circle cx="347.2" cy="43.1" r="2.55" fill="url(#gC)"/>
<circle cx="354.2" cy="43.1" r="2.55" fill="url(#gC)"/>
<circle cx="365.6" cy="43.1" r="2.55" fill="url(#gC)"/>
<circle cx="370.8" cy="43.1" r="2.55" fill="url(#gC)"/>
<circle cx="383.5" cy="43.1" r="2.55" fill="url(#gC)"/>
<circle cx="389.8" cy="43.1" r="2.55" fill="url(#gC)"/>
<circle cx="401.5" cy="43.1" r="2.55" fill="url(#gC)"/>
<path d="M358.6,36.7 C364,33 368.5,27 365.5,25.6 C363,24 359,22.6 353.6,21.4" fill="none" stroke="#3ec2e8" stroke-width="1.6" stroke-dasharray="3.2,2"/>
<path d="M350.9,20.4 L355.8,18.6 L354.2,23.6 Z" fill="#3ec2e8" stroke="#3ec2e8" stroke-width="0.8"/>
<text x="350.8" y="17.0" font-size="10.2" text-anchor="start" fill="#111" >0.47 e</text>
<text x="307.6" y="136.1" font-size="10.3" text-anchor="start" fill="#111" >L<tspan font-size="7.0" dy="2.2">O-O</tspan><tspan dy="-2.2">=1.295 Å</tspan></text>
<text x="307.6" y="148.5" font-size="10.3" text-anchor="start" fill="#111" >E<tspan font-size="7.0" dy="2.2">ads</tspan><tspan dy="-2.2">=-1.37 eV</tspan></text>
<text x="456.2" y="11.7" font-size="16.0" text-anchor="start" fill="#111" >c</text>
<line x1="531.10" y1="87.10" x2="526.80" y2="90.70" stroke="#2f52dc" stroke-width="2.0" stroke-linecap="round"/>
<line x1="526.80" y1="90.70" x2="522.50" y2="94.30" stroke="#e41818" stroke-width="2.0" stroke-linecap="round"/>
<line x1="531.10" y1="87.10" x2="535.65" y2="84.45" stroke="#2f52dc" stroke-width="2.0" stroke-linecap="round"/>
<line x1="535.65" y1="84.45" x2="540.20" y2="81.80" stroke="#e41818" stroke-width="2.0" stroke-linecap="round"/>
<line x1="554.20" y1="88.60" x2="547.20" y2="85.20" stroke="#2f52dc" stroke-width="2.0" stroke-linecap="round"/>
<line x1="547.20" y1="85.20" x2="540.20" y2="81.80" stroke="#e41818" stroke-width="2.0" stroke-linecap="round"/>
<line x1="554.20" y1="88.60" x2="552.10" y2="98.00" stroke="#2f52dc" stroke-width="2.0" stroke-linecap="round"/>
<line x1="552.10" y1="98.00" x2="550.00" y2="107.40" stroke="#e41818" stroke-width="2.0" stroke-linecap="round"/>
<line x1="541.50" y1="113.60" x2="545.75" y2="110.50" stroke="#2f52dc" stroke-width="2.0" stroke-linecap="round"/>
<line x1="545.75" y1="110.50" x2="550.00" y2="107.40" stroke="#e41818" stroke-width="2.0" stroke-linecap="round"/>
<line x1="541.50" y1="113.60" x2="537.05" y2="116.65" stroke="#2f52dc" stroke-width="2.0" stroke-linecap="round"/>
<line x1="537.05" y1="116.65" x2="532.60" y2="119.70" stroke="#e41818" stroke-width="2.0" stroke-linecap="round"/>
<line x1="518.70" y1="112.10" x2="525.65" y2="115.90" stroke="#2f52dc" stroke-width="2.0" stroke-linecap="round"/>
<line x1="525.65" y1="115.90" x2="532.60" y2="119.70" stroke="#e41818" stroke-width="2.0" stroke-linecap="round"/>
<line x1="518.70" y1="112.10" x2="520.60" y2="103.20" stroke="#2f52dc" stroke-width="2.0" stroke-linecap="round"/>
<line x1="520.60" y1="103.20" x2="522.50" y2="94.30" stroke="#e41818" stroke-width="2.0" stroke-linecap="round"/>
<line x1="577.60" y1="87.10" x2="573.80" y2="90.70" stroke="#2f52dc" stroke-width="2.0" stroke-linecap="round"/>
<line x1="573.80" y1="90.70" x2="570.00" y2="94.30" stroke="#e41818" stroke-width="2.0" stroke-linecap="round"/>
<line x1="577.60" y1="87.10" x2="581.65" y2="84.05" stroke="#2f52dc" stroke-width="2.0" stroke-linecap="round"/>
<line x1="581.65" y1="84.05" x2="585.70" y2="81.00" stroke="#e41818" stroke-width="2.0" stroke-linecap="round"/>
<line x1="599.80" y1="88.60" x2="592.75" y2="84.80" stroke="#2f52dc" stroke-width="2.0" stroke-linecap="round"/>
<line x1="592.75" y1="84.80" x2="585.70" y2="81.00" stroke="#e41818" stroke-width="2.0" stroke-linecap="round"/>
<line x1="599.80" y1="88.60" x2="597.90" y2="98.75" stroke="#2f52dc" stroke-width="2.0" stroke-linecap="round"/>
<line x1="597.90" y1="98.75" x2="596.00" y2="108.90" stroke="#e41818" stroke-width="2.0" stroke-linecap="round"/>
<line x1="587.60" y1="115.20" x2="591.80" y2="112.05" stroke="#2f52dc" stroke-width="2.0" stroke-linecap="round"/>
<line x1="591.80" y1="112.05" x2="596.00" y2="108.90" stroke="#e41818" stroke-width="2.0" stroke-linecap="round"/>
<line x1="587.60" y1="115.20" x2="583.05" y2="118.05" stroke="#2f52dc" stroke-width="2.0" stroke-linecap="round"/>
<line x1="583.05" y1="118.05" x2="578.50" y2="120.90" stroke="#e41818" stroke-width="2.0" stroke-linecap="round"/>
<line x1="564.80" y1="112.10" x2="571.65" y2="116.50" stroke="#2f52dc" stroke-width="2.0" stroke-linecap="round"/>
<line x1="571.65" y1="116.50" x2="578.50" y2="120.90" stroke="#e41818" stroke-width="2.0" stroke-linecap="round"/>
<line x1="564.80" y1="112.10" x2="567.40" y2="103.20" stroke="#2f52dc" stroke-width="2.0" stroke-linecap="round"/>
<line x1="567.40" y1="103.20" x2="570.00" y2="94.30" stroke="#e41818" stroke-width="2.0" stroke-linecap="round"/>
<line x1="554.20" y1="88.60" x2="562.10" y2="91.45" stroke="#2f52dc" stroke-width="2.0" stroke-linecap="round"/>
<line x1="562.10" y1="91.45" x2="570.00" y2="94.30" stroke="#e41818" stroke-width="2.0" stroke-linecap="round"/>
<line x1="564.80" y1="112.10" x2="557.40" y2="109.75" stroke="#2f52dc" stroke-width="2.0" stroke-linecap="round"/>
<line x1="557.40" y1="109.75" x2="550.00" y2="107.40" stroke="#e41818" stroke-width="2.0" stroke-linecap="round"/>
<line x1="599.80" y1="88.60" x2="607.20" y2="91.45" stroke="#2f52dc" stroke-width="2.0" stroke-linecap="round"/>
<line x1="607.20" y1="91.45" x2="614.60" y2="94.30" stroke="#e41818" stroke-width="2.0" stroke-linecap="round"/>
<line x1="518.70" y1="112.10" x2="510.85" y2="110.50" stroke="#2f52dc" stroke-width="2.0" stroke-linecap="round"/>
<line x1="510.85" y1="110.50" x2="503.00" y2="108.90" stroke="#e41818" stroke-width="2.0" stroke-linecap="round"/>
<circle cx="585.7" cy="81.0" r="2.6" fill="url(#gO)"/>
<circle cx="540.2" cy="81.8" r="2.6" fill="url(#gO)"/>
<circle cx="531.1" cy="87.1" r="4.2" fill="url(#gCu)"/>
<circle cx="577.6" cy="87.1" r="4.2" fill="url(#gCu)"/>
<circle cx="554.2" cy="88.6" r="4.2" fill="url(#gCu)"/>
<circle cx="599.8" cy="88.6" r="4.2" fill="url(#gCu)"/>
<circle cx="522.5" cy="94.3" r="2.6" fill="url(#gO)"/>
<circle cx="570.0" cy="94.3" r="2.6" fill="url(#gO)"/>
<circle cx="614.6" cy="94.3" r="2.6" fill="url(#gO)"/>
<circle cx="550.0" cy="107.4" r="2.6" fill="url(#gO)"/>
<circle cx="503.0" cy="108.9" r="2.6" fill="url(#gO)"/>
<circle cx="596.0" cy="108.9" r="2.6" fill="url(#gO)"/>
<circle cx="518.7" cy="112.1" r="4.2" fill="url(#gCu)"/>
<circle cx="564.8" cy="112.1" r="4.2" fill="url(#gCu)"/>
<circle cx="541.5" cy="113.6" r="4.2" fill="url(#gCu)"/>
<circle cx="587.6" cy="115.2" r="4.2" fill="url(#gCu)"/>
<circle cx="532.6" cy="119.7" r="2.6" fill="url(#gO)"/>
<circle cx="578.5" cy="120.9" r="2.6" fill="url(#gO)"/>
<line x1="540.40" y1="81.00" x2="549.00" y2="72.50" stroke="#e41818" stroke-width="1.6" />
<line x1="551.10" y1="71.10" x2="561.70" y2="58.90" stroke="#c8c8c8" stroke-width="1.6" />
<ellipse cx="540.4" cy="77.3" rx="1.6" ry="1.2" fill="url(#gCy)" transform="rotate(0 540.4 77.3)" opacity="1"/>
<ellipse cx="551.0" cy="43.8" rx="6.5" ry="4.4" fill="url(#gCy)" transform="rotate(0 551.0 43.8)" opacity="1"/>
<ellipse cx="556.0" cy="52.3" rx="4.6" ry="3" fill="url(#gY)" transform="rotate(0 556.0 52.3)" opacity="1"/>
<ellipse cx="557.5" cy="57.0" rx="4.2" ry="1.9" fill="url(#gCy)" transform="rotate(0 557.5 57.0)" opacity="1"/>
<ellipse cx="566.0" cy="52.6" rx="3.3" ry="2.5" fill="url(#gCy)" transform="rotate(0 566.0 52.6)" opacity="1"/>
<ellipse cx="564.8" cy="65.6" rx="4.2" ry="4" fill="url(#gY)" transform="rotate(0 564.8 65.6)" opacity="1"/>
<ellipse cx="566.0" cy="60.2" rx="4.2" ry="2" fill="url(#gCy)" transform="rotate(0 566.0 60.2)" opacity="1"/>
<ellipse cx="558.6" cy="64.2" rx="1.8" ry="2.2" fill="url(#gCy)" transform="rotate(0 558.6 64.2)" opacity="1"/>
<circle cx="561.7" cy="58.9" r="3" fill="url(#gPt)"/>
<ellipse cx="551.0" cy="65.6" rx="1.4" ry="1.2" fill="url(#gY)" transform="rotate(0 551.0 65.6)" opacity="1"/>
<ellipse cx="545.2" cy="70.3" rx="1.4" ry="1.2" fill="url(#gY)" transform="rotate(0 545.2 70.3)" opacity="1"/>
<ellipse cx="557.0" cy="73.0" rx="1.4" ry="1.2" fill="url(#gY)" transform="rotate(0 557.0 73.0)" opacity="1"/>
<ellipse cx="550.5" cy="76.6" rx="1.4" ry="1.2" fill="url(#gY)" transform="rotate(0 550.5 76.6)" opacity="1"/>
<ellipse cx="546.5" cy="75.5" rx="1.4" ry="1.2" fill="url(#gY)" transform="rotate(0 546.5 75.5)" opacity="1"/>
<ellipse cx="555.6" cy="67.6" rx="1.4" ry="1.2" fill="url(#gY)" transform="rotate(0 555.6 67.6)" opacity="1"/>
<circle cx="551.1" cy="71.1" r="4.3" fill="url(#gPt)"/>
<ellipse cx="552.9" cy="42.6" rx="7" ry="4.6" fill="url(#gCy)" transform="rotate(0 552.9 42.6)" opacity="1"/>
<ellipse cx="552.4" cy="27.2" rx="7.4" ry="5.2" fill="url(#gY)" transform="rotate(0 552.4 27.2)" opacity="1"/>
<ellipse cx="542.2" cy="31.6" rx="5.2" ry="3.8" fill="url(#gCy)" transform="rotate(-10 542.2 31.6)" opacity="1"/>
<ellipse cx="562.5" cy="31.7" rx="5" ry="3.5" fill="url(#gCy)" transform="rotate(10 562.5 31.7)" opacity="1"/>
<ellipse cx="552.5" cy="33.0" rx="5.2" ry="3.8" fill="url(#gCy)" transform="rotate(0 552.5 33.0)" opacity="1"/>
<ellipse cx="540.3" cy="19.8" rx="5.6" ry="5.4" fill="url(#gY)" transform="rotate(0 540.3 19.8)" opacity="1"/>
<ellipse cx="557.8" cy="20.6" rx="5.4" ry="5.6" fill="url(#gY)" transform="rotate(0 557.8 20.6)" opacity="1"/>
<ellipse cx="547.8" cy="10.7" rx="5.9" ry="5.4" fill="url(#gY)" transform="rotate(0 547.8 10.7)" opacity="1"/>
<ellipse cx="547.5" cy="18.2" rx="8.6" ry="2.5" fill="url(#gCy)" transform="rotate(42 547.5 18.2)" opacity="1"/>
<ellipse cx="555.6" cy="16.4" rx="2.6" ry="2.0" fill="url(#gCy)" transform="rotate(0 555.6 16.4)" opacity="1"/>
<ellipse cx="557.8" cy="38.6" rx="2" ry="2.8" fill="url(#gY)" transform="rotate(0 557.8 38.6)" opacity="1"/>
<line x1="553.50" y1="24.00" x2="553.50" y2="38.00" stroke="#f08020" stroke-width="1.0" />
<line x1="512.00" y1="39.30" x2="606.00" y2="39.30" stroke="#7a5034" stroke-width="2.0" />
<circle cx="512.4" cy="39.3" r="2.55" fill="url(#gC)"/>
<circle cx="518.7" cy="39.3" r="2.55" fill="url(#gC)"/>
<circle cx="530.9" cy="39.3" r="2.55" fill="url(#gC)"/>
<circle cx="537.4" cy="39.3" r="2.55" fill="url(#gC)"/>
<circle cx="549.7" cy="39.3" r="2.55" fill="url(#gC)"/>
<circle cx="555.8" cy="39.3" r="2.55" fill="url(#gC)"/>
<circle cx="567.7" cy="39.3" r="2.55" fill="url(#gC)"/>
<circle cx="574.2" cy="39.3" r="2.55" fill="url(#gC)"/>
<circle cx="586.5" cy="39.3" r="2.55" fill="url(#gC)"/>
<circle cx="593.0" cy="39.3" r="2.55" fill="url(#gC)"/>
<circle cx="605.7" cy="39.3" r="2.55" fill="url(#gC)"/>
<ellipse cx="538.2" cy="38.8" rx="1.4" ry="2.2" fill="url(#gCy)" transform="rotate(0 538.2 38.8)" opacity="0.85"/>
<ellipse cx="569.0" cy="39.0" rx="1.4" ry="2.2" fill="url(#gCy)" transform="rotate(0 569.0 39.0)" opacity="0.85"/>
<ellipse cx="586.8" cy="39.6" rx="1.6" ry="2.2" fill="url(#gCy)" transform="rotate(30 586.8 39.6)" opacity="0.9"/>
<path d="M588.4,38.6 C592,34.5 594.5,30 592,28.4 C589.5,26.8 586,25.8 582,24.8" fill="none" stroke="#3ec2e8" stroke-width="1.6" stroke-dasharray="3.2,2"/>
<path d="M577.4,23.3 L582.0,21.8 L581.0,26.8 Z" fill="#3ec2e8" stroke="#3ec2e8" stroke-width="0.8"/>
<text x="577.9" y="20.3" font-size="10.2" text-anchor="start" fill="#111" >0.54 e</text>
<text x="528.5" y="136.2" font-size="10.3" text-anchor="start" fill="#111" >L<tspan font-size="7.0" dy="2.2">O-O</tspan><tspan dy="-2.2">=1.296 Å</tspan></text>
<text x="528.5" y="148.6" font-size="10.3" text-anchor="start" fill="#111" >E<tspan font-size="7.0" dy="2.2">ads</tspan><tspan dy="-2.2">=-1.72 eV</tspan></text>
<polyline points="34.4,203.4 34.8,203.4 35.2,203.4 35.6,203.4 36.0,203.4 36.4,203.4 36.8,203.4 37.2,203.4 37.6,203.4 38.0,203.4 38.4,203.4 38.8,203.4 39.2,203.4 39.6,203.4 40.0,203.4 40.4,203.4 40.8,203.4 41.2,203.4 41.6,203.4 42.0,203.3 42.4,203.3 42.8,203.3 43.2,203.3 43.6,203.3 44.0,203.3 44.4,203.3 44.8,203.3 45.2,203.3 45.6,203.2 46.0,203.2 46.4,203.2 46.8,203.2 47.2,203.2 47.6,203.1 48.0,203.1 48.4,203.1 48.8,203.1 49.2,203.0 49.6,203.0 50.0,202.9 50.4,202.9 50.8,202.8 51.2,202.8 51.6,202.7 52.0,202.6 52.4,202.5 52.8,202.4 53.2,202.3 53.6,202.2 54.0,202.1 54.4,201.9 54.8,201.7 55.2,201.5 55.6,201.3 56.0,201.0 56.4,200.7 56.8,200.3 57.2,199.9 57.6,199.5 58.0,199.0 58.4,198.5 58.8,198.0 59.2,197.5 59.6,197.0 60.0,196.7 60.4,196.7 60.8,197.0 61.2,197.7 61.6,198.8 62.0,200.5 62.4,202.4 62.8,204.5 63.2,206.4 63.6,208.0 64.0,209.1 64.4,209.8 64.8,210.1 65.2,210.0 65.6,209.7 66.0,209.3 66.4,208.8 66.8,208.3 67.2,207.8 67.6,207.3 68.0,206.9 68.4,206.5 68.8,206.2 69.2,205.9 69.6,205.6 70.0,205.4 70.4,205.2 70.8,205.0 71.2,204.8 71.6,204.7 72.0,204.6 72.4,204.4 72.8,204.3 73.2,204.3 73.6,204.2 74.0,204.1 74.4,204.0 74.8,204.0 75.2,203.9 75.6,203.9 76.0,203.8 76.4,203.8 76.8,203.8 77.2,203.7 77.6,203.7 78.0,203.7 78.4,203.6 78.8,203.6 79.2,203.6 79.6,203.6 80.0,203.5 80.4,203.5 80.8,203.5 81.2,203.5 81.6,203.4 82.0,203.4 82.4,203.4 82.8,203.4 83.2,203.3 83.6,203.3 84.0,203.3 84.4,203.3 84.8,203.2 85.2,203.2 85.6,203.1 86.0,203.1 86.4,203.1 86.8,203.0 87.2,203.0 87.6,202.9 88.0,202.8 88.4,202.8 88.8,202.7 89.2,202.6 89.6,202.5 90.0,202.4 90.4,202.2 90.8,202.1 91.2,201.9 91.6,201.7 92.0,201.5 92.4,201.2 92.8,201.0 93.2,200.6 93.6,200.3 94.0,199.9 94.4,199.4 94.8,198.9 95.2,198.4 95.6,197.9 96.0,197.4 96.4,197.0 96.8,196.7 97.2,196.8 97.6,197.1 98.0,197.9 98.4,199.2 98.8,201.0 99.2,203.0 99.6,205.0 100.0,206.8 100.4,208.3 100.8,209.4 101.2,209.9 101.6,210.1 102.0,210.0 102.4,209.6 102.8,209.2 103.2,208.7 103.6,208.2 104.0,207.7 104.4,207.2 104.8,206.8 105.2,206.4 105.6,206.1 106.0,205.8 106.4,205.6 106.8,205.3 107.2,205.1 107.6,205.0 108.0,204.8 108.4,204.7 108.8,204.5 109.2,204.4 109.6,204.3 110.0,204.3 110.4,204.2 110.8,204.1 111.2,204.1 111.6,204.0 112.0,203.9 112.4,203.9 112.8,203.9 113.2,203.8 113.6,203.8 114.0,203.7 114.4,203.7 114.8,203.7 115.2,203.7 115.6,203.6 116.0,203.6 116.4,203.6 116.8,203.6 117.2,203.5 117.6,203.5 118.0,203.5 118.4,203.5 118.8,203.4 119.2,203.4 119.6,203.4 120.0,203.4 120.4,203.3 120.8,203.3 121.2,203.3 121.6,203.2 122.0,203.2 122.4,203.2 122.8,203.1 123.2,203.1 123.6,203.0 124.0,203.0 124.4,202.9 124.8,202.8 125.2,202.8 125.6,202.7 126.0,202.6 126.4,202.5 126.8,202.3 127.2,202.2 127.6,202.1 128.0,201.9 128.4,201.7 128.8,201.5 129.2,201.2 129.6,200.9 130.0,200.6 130.4,200.2 130.8,199.8 131.2,199.3 131.6,198.8 132.0,198.3 132.4,197.8 132.8,197.3 133.2,196.9 133.6,196.7 134.0,196.8 134.4,197.3 134.8,198.2 135.2,199.7 135.6,201.5 136.0,203.5 136.4,205.5 136.8,207.3 137.2,208.7 137.6,209.6 138.0,210.0 138.4,210.1 138.8,209.9 139.2,209.6 139.6,209.1 140.0,208.6 140.4,208.1 140.8,207.6 141.2,207.2 141.6,206.8 142.0,206.4 142.4,206.1 142.8,205.8 143.2,205.6 143.6,205.3 144.0,205.1 144.4,205.0 144.8,204.8 145.2,204.7 145.6,204.6 146.0,204.5 146.4,204.4 146.8,204.3 147.2,204.2 147.6,204.2 148.0,204.1 148.4,204.1 148.8,204.0 149.2,204.0 149.6,204.0 150.0,203.9 150.4,203.9 150.8,203.9 151.2,203.8 151.6,203.8 152.0,203.8 152.4,203.8 152.8,203.8 153.2,203.7 153.6,203.7 154.0,203.7 154.4,203.7 154.8,203.7 155.2,203.7 155.6,203.7 156.0,203.7 156.4,203.7 156.8,203.6 157.2,203.6 157.6,203.6 158.0,203.6 158.4,203.6 158.8,203.6 159.2,203.6 159.6,203.6 160.0,203.6 160.4,203.6 160.8,203.6 161.2,203.6 161.6,203.6 162.0,203.6 162.4,203.6 162.8,203.6 163.2,203.6 163.6,203.6 164.0,203.6 164.4,203.6 164.8,203.6 165.2,203.6 165.6,203.6 166.0,203.6 166.4,203.6 166.8,203.5 167.2,203.5 167.6,203.5 168.0,203.5 168.4,203.5 168.8,203.5 169.2,203.5 169.6,203.5 170.0,203.5 170.4,203.5 170.8,203.5 171.2,203.5 171.6,203.5 172.0,203.5 172.4,203.5 172.8,203.5 173.2,203.5 173.6,203.5 174.0,203.5 174.4,203.5 174.8,203.5 175.2,203.5 175.6,203.5 176.0,203.5 176.4,203.5 176.8,203.5 177.2,203.5 177.6,203.5 178.0,203.5 178.4,203.5 178.8,203.5 179.2,203.5 179.6,203.5 180.0,203.5 180.4,203.5 180.8,203.5 181.2,203.5 181.6,203.5 182.0,203.5 182.4,203.5 182.8,203.5 183.2,203.5 183.6,203.5 184.0,203.5 184.4,203.5 184.8,203.5 185.2,203.5 185.6,203.5 186.0,203.5 186.4,203.5 186.8,203.5 187.2,203.5 187.6,203.5 188.0,203.5 188.4,203.5 188.8,203.5 189.2,203.5 189.6,203.5 190.0,203.5 190.4,203.5 190.8,203.5 191.2,203.5 191.6,203.5 192.0,203.5 192.4,203.5 192.8,203.5 193.2,203.5 193.6,203.5 194.0,203.5 194.4,203.5 194.8,203.5 195.2,203.5 195.6,203.5 196.0,203.5 196.4,203.5 196.8,203.5 197.2,203.5 197.6,203.5 198.0,203.5 198.4,203.5 198.8,203.5 199.2,203.5 199.6,203.5 200.0,203.5 200.4,203.5 200.8,203.5 201.2,203.5 201.6,203.5 202.0,203.5 202.4,203.5 202.8,203.5 203.2,203.5 203.6,203.5 204.0,203.5 204.4,203.5 204.8,203.5 205.2,203.5 205.6,203.5 206.0,203.5 206.4,203.5 206.8,203.5 207.2,203.5 207.6,203.5 208.0,203.5 208.4,203.5 208.8,203.5 209.2,203.5 209.6,203.5 210.0,203.5 210.4,203.5 210.8,203.5 211.2,203.5 211.6,203.5 212.0,203.5 212.4,203.5 212.8,203.5" fill="none" stroke="#1fa5a5" stroke-width="1.2" stroke-linejoin="round" stroke-linecap="round" />
<polyline points="34.4,225.2 34.8,225.2 35.2,225.2 35.6,225.2 36.0,225.2 36.4,225.2 36.8,225.2 37.2,225.2 37.6,225.2 38.0,225.2 38.4,225.2 38.8,225.2 39.2,225.2 39.6,225.2 40.0,225.2 40.4,225.2 40.8,225.2 41.2,225.2 41.6,225.2 42.0,225.1 42.4,225.1 42.8,225.1 43.2,225.1 43.6,225.1 44.0,225.1 44.4,225.1 44.8,225.1 45.2,225.1 45.6,225.0 46.0,225.0 46.4,225.0 46.8,225.0 47.2,225.0 47.6,224.9 48.0,224.9 48.4,224.9 48.8,224.8 49.2,224.8 49.6,224.8 50.0,224.7 50.4,224.7 50.8,224.6 51.2,224.5 51.6,224.5 52.0,224.4 52.4,224.3 52.8,224.2 53.2,224.1 53.6,223.9 54.0,223.7 54.4,223.6 54.8,223.3 55.2,223.1 55.6,222.8 56.0,222.4 56.4,222.0 56.8,221.6 57.2,221.0 57.6,220.4 58.0,219.7 58.4,218.8 58.8,217.9 59.2,217.0 59.6,216.0 60.0,215.2 60.4,214.6 60.8,214.5 61.2,215.3 61.6,217.0 62.0,219.8 62.4,223.3 62.8,227.2 63.2,230.8 63.6,233.6 64.0,235.3 64.4,236.0 64.8,236.0 65.2,235.4 65.6,234.5 66.0,233.6 66.4,232.6 66.8,231.7 67.2,230.9 67.6,230.1 68.0,229.5 68.4,229.0 68.8,228.5 69.2,228.1 69.6,227.7 70.0,227.4 70.4,227.2 70.8,227.0 71.2,226.8 71.6,226.6 72.0,226.5 72.4,226.3 72.8,226.2 73.2,226.1 73.6,226.0 74.0,226.0 74.4,225.9 74.8,225.8 75.2,225.8 75.6,225.7 76.0,225.7 76.4,225.6 76.8,225.6 77.2,225.6 77.6,225.5 78.0,225.5 78.4,225.5 78.8,225.4 79.2,225.4 79.6,225.4 80.0,225.4 80.4,225.3 80.8,225.3 81.2,225.3 81.6,225.3 82.0,225.2 82.4,225.2 82.8,225.2 83.2,225.1 83.6,225.1 84.0,225.1 84.4,225.1 84.8,225.0 85.2,225.0 85.6,224.9 86.0,224.9 86.4,224.9 86.8,224.8 87.2,224.7 87.6,224.7 88.0,224.6 88.4,224.5 88.8,224.4 89.2,224.3 89.6,224.2 90.0,224.1 90.4,223.9 90.8,223.8 91.2,223.6 91.6,223.3 92.0,223.1 92.4,222.8 92.8,222.4 93.2,222.0 93.6,221.5 94.0,220.9 94.4,220.3 94.8,219.5 95.2,218.7 95.6,217.7 96.0,216.8 96.4,215.8 96.8,215.0 97.2,214.5 97.6,214.7 98.0,215.6 98.4,217.6 98.8,220.6 99.2,224.3 99.6,228.2 100.0,231.6 100.4,234.1 100.8,235.6 101.2,236.1 101.6,235.9 102.0,235.2 102.4,234.3 102.8,233.4 103.2,232.4 103.6,231.5 104.0,230.7 104.4,230.0 104.8,229.4 105.2,228.9 105.6,228.4 106.0,228.0 106.4,227.7 106.8,227.4 107.2,227.1 107.6,226.9 108.0,226.7 108.4,226.6 108.8,226.4 109.2,226.3 109.6,226.2 110.0,226.1 110.4,226.0 110.8,226.0 111.2,225.9 111.6,225.8 112.0,225.8 112.4,225.7 112.8,225.7 113.2,225.6 113.6,225.6 114.0,225.6 114.4,225.5 114.8,225.5 115.2,225.5 115.6,225.4 116.0,225.4 116.4,225.4 116.8,225.4 117.2,225.3 117.6,225.3 118.0,225.3 118.4,225.3 118.8,225.2 119.2,225.2 119.6,225.2 120.0,225.2 120.4,225.1 120.8,225.1 121.2,225.1 121.6,225.0 122.0,225.0 122.4,224.9 122.8,224.9 123.2,224.9 123.6,224.8 124.0,224.7 124.4,224.7 124.8,224.6 125.2,224.5 125.6,224.4 126.0,224.3 126.4,224.2 126.8,224.1 127.2,223.9 127.6,223.7 128.0,223.5 128.4,223.3 128.8,223.0 129.2,222.7 129.6,222.3 130.0,221.9 130.4,221.4 130.8,220.8 131.2,220.1 131.6,219.3 132.0,218.5 132.4,217.5 132.8,216.5 133.2,215.6 133.6,214.9 134.0,214.5 134.4,214.8 134.8,216.1 135.2,218.3 135.6,221.5 136.0,225.3 136.4,229.1 136.8,232.4 137.2,234.6 137.6,235.8 138.0,236.1 138.4,235.8 138.8,235.0 139.2,234.1 139.6,233.1 140.0,232.2 140.4,231.3 140.8,230.6 141.2,229.9 141.6,229.3 142.0,228.8 142.4,228.4 142.8,228.0 143.2,227.7 143.6,227.4 144.0,227.1 144.4,226.9 144.8,226.8 145.2,226.6 145.6,226.5 146.0,226.4 146.4,226.3 146.8,226.2 147.2,226.1 147.6,226.0 148.0,226.0 148.4,225.9 148.8,225.9 149.2,225.8 149.6,225.8 150.0,225.7 150.4,225.7 150.8,225.7 151.2,225.6 151.6,225.6 152.0,225.6 152.4,225.6 152.8,225.6 153.2,225.5 153.6,225.5 154.0,225.5 154.4,225.5 154.8,225.5 155.2,225.5 155.6,225.5 156.0,225.5 156.4,225.5 156.8,225.4 157.2,225.4 157.6,225.4 158.0,225.4 158.4,225.4 158.8,225.4 159.2,225.4 159.6,225.4 160.0,225.4 160.4,225.4 160.8,225.4 161.2,225.4 161.6,225.4 162.0,225.4 162.4,225.4 162.8,225.4 163.2,225.4 163.6,225.4 164.0,225.4 164.4,225.4 164.8,225.4 165.2,225.4 165.6,225.4 166.0,225.4 166.4,225.4 166.8,225.3 167.2,225.3 167.6,225.3 168.0,225.3 168.4,225.3 168.8,225.3 169.2,225.3 169.6,225.3 170.0,225.3 170.4,225.3 170.8,225.3 171.2,225.3 171.6,225.3 172.0,225.3 172.4,225.3 172.8,225.3 173.2,225.3 173.6,225.3 174.0,225.3 174.4,225.3 174.8,225.3 175.2,225.3 175.6,225.3 176.0,225.3 176.4,225.3 176.8,225.3 177.2,225.3 177.6,225.3 178.0,225.3 178.4,225.3 178.8,225.3 179.2,225.3 179.6,225.3 180.0,225.3 180.4,225.3 180.8,225.3 181.2,225.3 181.6,225.3 182.0,225.3 182.4,225.3 182.8,225.3 183.2,225.3 183.6,225.3 184.0,225.3 184.4,225.3 184.8,225.3 185.2,225.3 185.6,225.3 186.0,225.3 186.4,225.3 186.8,225.3 187.2,225.3 187.6,225.3 188.0,225.3 188.4,225.3 188.8,225.3 189.2,225.3 189.6,225.3 190.0,225.3 190.4,225.3 190.8,225.3 191.2,225.3 191.6,225.3 192.0,225.3 192.4,225.3 192.8,225.3 193.2,225.3 193.6,225.3 194.0,225.3 194.4,225.3 194.8,225.3 195.2,225.3 195.6,225.3 196.0,225.3 196.4,225.3 196.8,225.3 197.2,225.3 197.6,225.3 198.0,225.3 198.4,225.3 198.8,225.3 199.2,225.3 199.6,225.3 200.0,225.3 200.4,225.3 200.8,225.3 201.2,225.3 201.6,225.3 202.0,225.3 202.4,225.3 202.8,225.3 203.2,225.3 203.6,225.3 204.0,225.3 204.4,225.3 204.8,225.3 205.2,225.3 205.6,225.3 206.0,225.3 206.4,225.3 206.8,225.3 207.2,225.3 207.6,225.3 208.0,225.3 208.4,225.3 208.8,225.3 209.2,225.3 209.6,225.3 210.0,225.3 210.4,225.3 210.8,225.3 211.2,225.3 211.6,225.3 212.0,225.3 212.4,225.3 212.8,225.3" fill="none" stroke="#2f64a0" stroke-width="1.2" stroke-linejoin="round" stroke-linecap="round" />
<polyline points="34.4,255.2 34.8,255.2 35.2,255.2 35.6,255.2 36.0,255.2 36.4,255.2 36.8,255.2 37.2,255.2 37.6,255.1 38.0,255.1 38.4,255.1 38.8,255.1 39.2,255.1 39.6,255.1 40.0,255.1 40.4,255.1 40.8,255.1 41.2,255.1 41.6,255.1 42.0,255.0 42.4,255.0 42.8,255.0 43.2,255.0 43.6,255.0 44.0,255.0 44.4,254.9 44.8,254.9 45.2,254.9 45.6,254.9 46.0,254.8 46.4,254.8 46.8,254.8 47.2,254.7 47.6,254.7 48.0,254.6 48.4,254.6 48.8,254.5 49.2,254.5 49.6,254.4 50.0,254.3 50.4,254.2 50.8,254.1 51.2,254.0 51.6,253.9 52.0,253.8 52.4,253.6 52.8,253.4 53.2,253.2 53.6,253.0 54.0,252.7 54.4,252.4 54.8,252.1 55.2,251.7 55.6,251.2 56.0,250.7 56.4,250.1 56.8,249.4 57.2,248.6 57.6,247.7 58.0,246.6 58.4,245.5 58.8,244.3 59.2,243.1 59.6,242.0 60.0,241.1 60.4,240.7 60.8,241.0 61.2,242.2 61.6,244.7 62.0,248.3 62.4,252.8 62.8,257.8 63.2,262.5 63.6,266.2 64.0,268.8 64.4,270.1 64.8,270.4 65.2,270.0 65.6,269.1 66.0,267.9 66.4,266.6 66.8,265.4 67.2,264.2 67.6,263.1 68.0,262.2 68.4,261.4 68.8,260.6 69.2,260.0 69.6,259.4 70.0,258.9 70.4,258.5 70.8,258.2 71.2,257.8 71.6,257.6 72.0,257.3 72.4,257.1 72.8,256.9 73.2,256.7 73.6,256.6 74.0,256.5 74.4,256.3 74.8,256.2 75.2,256.1 75.6,256.1 76.0,256.0 76.4,255.9 76.8,255.8 77.2,255.8 77.6,255.7 78.0,255.6 78.4,255.6 78.8,255.5 79.2,255.5 79.6,255.4 80.0,255.4 80.4,255.4 80.8,255.3 81.2,255.3 81.6,255.2 82.0,255.2 82.4,255.1 82.8,255.1 83.2,255.0 83.6,255.0 84.0,254.9 84.4,254.9 84.8,254.8 85.2,254.8 85.6,254.7 86.0,254.6 86.4,254.5 86.8,254.5 87.2,254.4 87.6,254.3 88.0,254.1 88.4,254.0 88.8,253.8 89.2,253.7 89.6,253.5 90.0,253.3 90.4,253.0 90.8,252.8 91.2,252.4 91.6,252.1 92.0,251.7 92.4,251.2 92.8,250.6 93.2,250.0 93.6,249.3 94.0,248.4 94.4,247.5 94.8,246.4 95.2,245.3 95.6,244.1 96.0,242.9 96.4,241.8 96.8,241.0 97.2,240.7 97.6,241.2 98.0,242.8 98.4,245.6 98.8,249.4 99.2,254.1 99.6,259.0 100.0,263.6 100.4,267.0 100.8,269.3 101.2,270.3 101.6,270.4 102.0,269.8 102.4,268.8 102.8,267.6 103.2,266.3 103.6,265.1 104.0,264.0 104.4,262.9 104.8,262.0 105.2,261.2 105.6,260.5 106.0,259.9 106.4,259.3 106.8,258.9 107.2,258.5 107.6,258.1 108.0,257.8 108.4,257.5 108.8,257.3 109.2,257.1 109.6,256.9 110.0,256.7 110.4,256.6 110.8,256.5 111.2,256.3 111.6,256.2 112.0,256.1 112.4,256.1 112.8,256.0 113.2,255.9 113.6,255.8 114.0,255.8 114.4,255.7 114.8,255.7 115.2,255.6 115.6,255.6 116.0,255.5 116.4,255.5 116.8,255.4 117.2,255.4 117.6,255.3 118.0,255.3 118.4,255.2 118.8,255.2 119.2,255.2 119.6,255.1 120.0,255.1 120.4,255.0 120.8,255.0 121.2,254.9 121.6,254.8 122.0,254.8 122.4,254.7 122.8,254.6 123.2,254.6 123.6,254.5 124.0,254.4 124.4,254.3 124.8,254.1 125.2,254.0 125.6,253.8 126.0,253.7 126.4,253.5 126.8,253.3 127.2,253.0 127.6,252.7 128.0,252.4 128.4,252.0 128.8,251.6 129.2,251.1 129.6,250.5 130.0,249.9 130.4,249.1 130.8,248.2 131.2,247.3 131.6,246.2 132.0,245.0 132.4,243.8 132.8,242.6 133.2,241.6 133.6,240.9 134.0,240.8 134.4,241.6 134.8,243.4 135.2,246.5 135.6,250.6 136.0,255.4 136.4,260.3 136.8,264.6 137.2,267.8 137.6,269.7 138.0,270.5 138.4,270.4 138.8,269.7 139.2,268.6 139.6,267.4 140.0,266.1 140.4,264.9 140.8,263.8 141.2,262.8 141.6,261.9 142.0,261.1 142.4,260.4 142.8,259.8 143.2,259.3 143.6,258.9 144.0,258.5 144.4,258.1 144.8,257.8 145.2,257.6 145.6,257.4 146.0,257.2 146.4,257.0 146.8,256.8 147.2,256.7 147.6,256.6 148.0,256.5 148.4,256.4 148.8,256.3 149.2,256.2 149.6,256.1 150.0,256.1 150.4,256.0 150.8,256.0 151.2,255.9 151.6,255.9 152.0,255.8 152.4,255.8 152.8,255.8 153.2,255.7 153.6,255.7 154.0,255.7 154.4,255.7 154.8,255.6 155.2,255.6 155.6,255.6 156.0,255.6 156.4,255.6 156.8,255.6 157.2,255.5 157.6,255.5 158.0,255.5 158.4,255.5 158.8,255.5 159.2,255.5 159.6,255.5 160.0,255.5 160.4,255.5 160.8,255.5 161.2,255.5 161.6,255.4 162.0,255.4 162.4,255.4 162.8,255.4 163.2,255.4 163.6,255.4 164.0,255.4 164.4,255.4 164.8,255.4 165.2,255.4 165.6,255.4 166.0,255.4 166.4,255.4 166.8,255.4 167.2,255.4 167.6,255.4 168.0,255.4 168.4,255.4 168.8,255.4 169.2,255.4 169.6,255.4 170.0,255.4 170.4,255.4 170.8,255.4 171.2,255.4 171.6,255.4 172.0,255.4 172.4,255.4 172.8,255.4 173.2,255.4 173.6,255.4 174.0,255.3 174.4,255.3 174.8,255.3 175.2,255.3 175.6,255.3 176.0,255.3 176.4,255.3 176.8,255.3 177.2,255.3 177.6,255.3 178.0,255.3 178.4,255.3 178.8,255.3 179.2,255.3 179.6,255.3 180.0,255.3 180.4,255.3 180.8,255.3 181.2,255.3 181.6,255.3 182.0,255.3 182.4,255.3 182.8,255.3 183.2,255.3 183.6,255.3 184.0,255.3 184.4,255.3 184.8,255.3 185.2,255.3 185.6,255.3 186.0,255.3 186.4,255.3 186.8,255.3 187.2,255.3 187.6,255.3 188.0,255.3 188.4,255.3 188.8,255.3 189.2,255.3 189.6,255.3 190.0,255.3 190.4,255.3 190.8,255.3 191.2,255.3 191.6,255.3 192.0,255.3 192.4,255.3 192.8,255.3 193.2,255.3 193.6,255.3 194.0,255.3 194.4,255.3 194.8,255.3 195.2,255.3 195.6,255.3 196.0,255.3 196.4,255.3 196.8,255.3 197.2,255.3 197.6,255.3 198.0,255.3 198.4,255.3 198.8,255.3 199.2,255.3 199.6,255.3 200.0,255.3 200.4,255.3 200.8,255.3 201.2,255.3 201.6,255.3 202.0,255.3 202.4,255.3 202.8,255.3 203.2,255.3 203.6,255.3 204.0,255.3 204.4,255.3 204.8,255.3 205.2,255.3 205.6,255.3 206.0,255.3 206.4,255.3 206.8,255.3 207.2,255.3 207.6,255.3 208.0,255.3 208.4,255.3 208.8,255.3 209.2,255.3 209.6,255.3 210.0,255.3 210.4,255.3 210.8,255.3 211.2,255.3 211.6,255.3 212.0,255.3 212.4,255.3 212.8,255.3" fill="none" stroke="#a866de" stroke-width="1.2" stroke-linejoin="round" stroke-linecap="round" />
<polyline points="34.4,296.0 34.8,296.0 35.2,296.0 35.6,296.0 36.0,296.0 36.4,296.0 36.8,296.0 37.2,296.0 37.6,296.0 38.0,295.9 38.4,295.9 38.8,295.9 39.2,295.9 39.6,295.9 40.0,295.9 40.4,295.9 40.8,295.8 41.2,295.8 41.6,295.8 42.0,295.8 42.4,295.8 42.8,295.7 43.2,295.7 43.6,295.7 44.0,295.6 44.4,295.6 44.8,295.6 45.2,295.5 45.6,295.5 46.0,295.4 46.4,295.4 46.8,295.3 47.2,295.3 47.6,295.2 48.0,295.1 48.4,295.0 48.8,294.9 49.2,294.8 49.6,294.7 50.0,294.6 50.4,294.5 50.8,294.3 51.2,294.1 51.6,293.9 52.0,293.7 52.4,293.5 52.8,293.2 53.2,292.9 53.6,292.5 54.0,292.1 54.4,291.6 54.8,291.1 55.2,290.5 55.6,289.8 56.0,289.0 56.4,288.0 56.8,287.0 57.2,285.8 57.6,284.5 58.0,283.1 58.4,281.5 58.8,279.9 59.2,278.3 59.6,276.9 60.0,275.9 60.4,275.5 60.8,276.2 61.2,278.3 61.6,281.8 62.0,286.8 62.4,292.9 62.8,299.4 63.2,305.5 63.6,310.6 64.0,314.1 64.4,316.2 64.8,316.9 65.2,316.6 65.6,315.5 66.0,314.1 66.4,312.5 66.8,310.9 67.2,309.3 67.6,307.8 68.0,306.5 68.4,305.3 68.8,304.2 69.2,303.3 69.6,302.5 70.0,301.8 70.4,301.2 70.8,300.6 71.2,300.1 71.6,299.7 72.0,299.3 72.4,299.0 72.8,298.7 73.2,298.5 73.6,298.2 74.0,298.0 74.4,297.8 74.8,297.7 75.2,297.5 75.6,297.4 76.0,297.2 76.4,297.1 76.8,297.0 77.2,296.9 77.6,296.8 78.0,296.7 78.4,296.7 78.8,296.6 79.2,296.5 79.6,296.4 80.0,296.3 80.4,296.3 80.8,296.2 81.2,296.1 81.6,296.1 82.0,296.0 82.4,295.9 82.8,295.9 83.2,295.8 83.6,295.7 84.0,295.6 84.4,295.5 84.8,295.4 85.2,295.3 85.6,295.2 86.0,295.1 86.4,295.0 86.8,294.8 87.2,294.7 87.6,294.5 88.0,294.3 88.4,294.1 88.8,293.9 89.2,293.6 89.6,293.3 90.0,293.0 90.4,292.6 90.8,292.1 91.2,291.6 91.6,291.1 92.0,290.4 92.4,289.7 92.8,288.9 93.2,287.9 93.6,286.8 94.0,285.6 94.4,284.3 94.8,282.8 95.2,281.2 95.6,279.6 96.0,278.0 96.4,276.7 96.8,275.8 97.2,275.7 97.6,276.7 98.0,279.1 98.4,283.0 98.8,288.3 99.2,294.6 99.6,301.1 100.0,307.0 100.4,311.7 100.8,314.9 101.2,316.6 101.6,317.0 102.0,316.4 102.4,315.3 102.8,313.8 103.2,312.2 103.6,310.5 104.0,309.0 104.4,307.5 104.8,306.2 105.2,305.1 105.6,304.1 106.0,303.2 106.4,302.4 106.8,301.7 107.2,301.1 107.6,300.5 108.0,300.1 108.4,299.7 108.8,299.3 109.2,299.0 109.6,298.7 110.0,298.4 110.4,298.2 110.8,298.0 111.2,297.8 111.6,297.7 112.0,297.5 112.4,297.4 112.8,297.3 113.2,297.1 113.6,297.0 114.0,296.9 114.4,296.8 114.8,296.8 115.2,296.7 115.6,296.6 116.0,296.5 116.4,296.4 116.8,296.4 117.2,296.3 117.6,296.2 118.0,296.2 118.4,296.1 118.8,296.0 119.2,296.0 119.6,295.9 120.0,295.8 120.4,295.7 120.8,295.6 121.2,295.5 121.6,295.4 122.0,295.3 122.4,295.2 122.8,295.1 123.2,295.0 123.6,294.8 124.0,294.7 124.4,294.5 124.8,294.3 125.2,294.1 125.6,293.8 126.0,293.6 126.4,293.3 126.8,292.9 127.2,292.5 127.6,292.1 128.0,291.6 128.4,291.0 128.8,290.3 129.2,289.6 129.6,288.7 130.0,287.7 130.4,286.6 130.8,285.4 131.2,284.0 131.6,282.5 132.0,280.9 132.4,279.2 132.8,277.7 133.2,276.5 133.6,275.8 134.0,275.9 134.4,277.2 134.8,280.0 135.2,284.3 135.6,289.9 136.0,296.3 136.4,302.7 136.8,308.4 137.2,312.7 137.6,315.5 138.0,316.9 138.4,317.0 138.8,316.3 139.2,315.0 139.6,313.5 140.0,311.9 140.4,310.2 140.8,308.7 141.2,307.3 141.6,306.1 142.0,304.9 142.4,304.0 142.8,303.1 143.2,302.3 143.6,301.7 144.0,301.1 144.4,300.6 144.8,300.1 145.2,299.8 145.6,299.4 146.0,299.1 146.4,298.8 146.8,298.6 147.2,298.4 147.6,298.2 148.0,298.0 148.4,297.9 148.8,297.8 149.2,297.6 149.6,297.5 150.0,297.4 150.4,297.3 150.8,297.3 151.2,297.2 151.6,297.1 152.0,297.1 152.4,297.0 152.8,297.0 153.2,296.9 153.6,296.9 154.0,296.8 154.4,296.8 154.8,296.8 155.2,296.7 155.6,296.7 156.0,296.7 156.4,296.6 156.8,296.6 157.2,296.6 157.6,296.6 158.0,296.6 158.4,296.5 158.8,296.5 159.2,296.5 159.6,296.5 160.0,296.5 160.4,296.5 160.8,296.5 161.2,296.4 161.6,296.4 162.0,296.4 162.4,296.4 162.8,296.4 163.2,296.4 163.6,296.4 164.0,296.4 164.4,296.4 164.8,296.4 165.2,296.4 165.6,296.4 166.0,296.4 166.4,296.3 166.8,296.3 167.2,296.3 167.6,296.3 168.0,296.3 168.4,296.3 168.8,296.3 169.2,296.3 169.6,296.3 170.0,296.3 170.4,296.3 170.8,296.3 171.2,296.3 171.6,296.3 172.0,296.3 172.4,296.3 172.8,296.3 173.2,296.3 173.6,296.3 174.0,296.3 174.4,296.3 174.8,296.3 175.2,296.3 175.6,296.3 176.0,296.3 176.4,296.3 176.8,296.3 177.2,296.3 177.6,296.3 178.0,296.3 178.4,296.3 178.8,296.3 179.2,296.3 179.6,296.3 180.0,296.3 180.4,296.3 180.8,296.3 181.2,296.2 181.6,296.2 182.0,296.2 182.4,296.2 182.8,296.2 183.2,296.2 183.6,296.2 184.0,296.2 184.4,296.2 184.8,296.2 185.2,296.2 185.6,296.2 186.0,296.2 186.4,296.2 186.8,296.2 187.2,296.2 187.6,296.2 188.0,296.2 188.4,296.2 188.8,296.2 189.2,296.2 189.6,296.2 190.0,296.2 190.4,296.2 190.8,296.2 191.2,296.2 191.6,296.2 192.0,296.2 192.4,296.2 192.8,296.2 193.2,296.2 193.6,296.2 194.0,296.2 194.4,296.2 194.8,296.2 195.2,296.2 195.6,296.2 196.0,296.2 196.4,296.2 196.8,296.2 197.2,296.2 197.6,296.2 198.0,296.2 198.4,296.2 198.8,296.2 199.2,296.2 199.6,296.2 200.0,296.2 200.4,296.2 200.8,296.2 201.2,296.2 201.6,296.2 202.0,296.2 202.4,296.2 202.8,296.2 203.2,296.2 203.6,296.2 204.0,296.2 204.4,296.2 204.8,296.2 205.2,296.2 205.6,296.2 206.0,296.2 206.4,296.2 206.8,296.2 207.2,296.2 207.6,296.2 208.0,296.2 208.4,296.2 208.8,296.2 209.2,296.2 209.6,296.2 210.0,296.2 210.4,296.2 210.8,296.2 211.2,296.2 211.6,296.2 212.0,296.2 212.4,296.2 212.8,296.2" fill="none" stroke="#3cb6f2" stroke-width="1.2" stroke-linejoin="round" stroke-linecap="round" />
<rect x="33.8" y="181.2" width="179.7" height="143.3" fill="none" stroke="#5a5a5a" stroke-width="1.2"/>
<line x1="56.40" y1="324.50" x2="56.40" y2="327.10" stroke="#5a5a5a" stroke-width="1" />
<line x1="78.78" y1="324.50" x2="78.78" y2="326.30" stroke="#5a5a5a" stroke-width="1" />
<line x1="101.15" y1="324.50" x2="101.15" y2="327.10" stroke="#5a5a5a" stroke-width="1" />
<line x1="123.53" y1="324.50" x2="123.53" y2="326.30" stroke="#5a5a5a" stroke-width="1" />
<line x1="145.90" y1="324.50" x2="145.90" y2="327.10" stroke="#5a5a5a" stroke-width="1" />
<line x1="168.27" y1="324.50" x2="168.27" y2="326.30" stroke="#5a5a5a" stroke-width="1" />
<line x1="190.65" y1="324.50" x2="190.65" y2="327.10" stroke="#5a5a5a" stroke-width="1" />
<text transform="translate(56.4,338.9) scale(1.0,1.03)" font-size="11.2" text-anchor="middle" fill="#111" >3480</text>
<text transform="translate(101.2,338.9) scale(1.0,1.03)" font-size="11.2" text-anchor="middle" fill="#111" >3500</text>
<text transform="translate(145.9,338.9) scale(1.0,1.03)" font-size="11.2" text-anchor="middle" fill="#111" >3520</text>
<text transform="translate(190.7,338.9) scale(1.0,1.03)" font-size="11.2" text-anchor="middle" fill="#111" >3540</text>
<text x="124.3" y="353.0" font-size="12" text-anchor="middle" fill="#111" >Magnetic filed (G)</text>
<text transform="translate(207.3,192.6) scale(1.0,1.08)" font-size="9.2" text-anchor="end" fill="#111" >CuO@Pt<tspan font-size="6.2" dy="2">NC</tspan><tspan dy="-2">/Fe-N-C</tspan></text>
<text transform="translate(206.0,217.7) scale(1.0,1.08)" font-size="9.1" text-anchor="end" fill="#111" >CuO@Fe-N-C</text>
<text transform="translate(193.2,246.3) scale(1.0,1.08)" font-size="9.1" text-anchor="end" fill="#111" >CuO</text>
<text transform="translate(194.2,286.0) scale(1.0,1.08)" font-size="9.1" text-anchor="end" fill="#111" >Blank</text>
<text transform="translate(11.9,186.7) scale(1.0,1.03)" font-size="16" text-anchor="start" fill="#111" >d</text>
<circle cx="269.7" cy="291.6" r="1.45" fill="none" stroke="#7a7a7a" stroke-width="0.7"/>
<circle cx="271.4" cy="296.3" r="1.45" fill="none" stroke="#7a7a7a" stroke-width="0.7"/>
<circle cx="273.2" cy="299.2" r="1.45" fill="none" stroke="#7a7a7a" stroke-width="0.7"/>
<circle cx="276.1" cy="302.1" r="1.45" fill="none" stroke="#7a7a7a" stroke-width="0.7"/>
<circle cx="279.0" cy="303.9" r="1.45" fill="none" stroke="#7a7a7a" stroke-width="0.7"/>
<circle cx="282.5" cy="304.8" r="1.45" fill="none" stroke="#7a7a7a" stroke-width="0.7"/>
<circle cx="285.5" cy="305.3" r="1.45" fill="none" stroke="#7a7a7a" stroke-width="0.7"/>
<circle cx="288.4" cy="305.7" r="1.45" fill="none" stroke="#7a7a7a" stroke-width="0.7"/>
<circle cx="291.5" cy="306.0" r="1.45" fill="none" stroke="#7a7a7a" stroke-width="0.7"/>
<circle cx="294.5" cy="306.3" r="1.45" fill="none" stroke="#7a7a7a" stroke-width="0.7"/>
<circle cx="297.5" cy="306.6" r="1.45" fill="none" stroke="#7a7a7a" stroke-width="0.7"/>
<circle cx="300.5" cy="306.9" r="1.45" fill="none" stroke="#7a7a7a" stroke-width="0.7"/>
<circle cx="303.5" cy="307.2" r="1.45" fill="none" stroke="#7a7a7a" stroke-width="0.7"/>
<circle cx="306.5" cy="307.5" r="1.45" fill="none" stroke="#7a7a7a" stroke-width="0.7"/>
<circle cx="309.5" cy="307.8" r="1.45" fill="none" stroke="#7a7a7a" stroke-width="0.7"/>
<circle cx="312.5" cy="308.0" r="1.45" fill="none" stroke="#7a7a7a" stroke-width="0.7"/>
<circle cx="315.5" cy="308.1" r="1.45" fill="none" stroke="#7a7a7a" stroke-width="0.7"/>
<circle cx="318.5" cy="308.2" r="1.45" fill="none" stroke="#7a7a7a" stroke-width="0.7"/>
<circle cx="321.5" cy="308.3" r="1.45" fill="none" stroke="#7a7a7a" stroke-width="0.7"/>
<circle cx="324.5" cy="308.4" r="1.45" fill="none" stroke="#7a7a7a" stroke-width="0.7"/>
<circle cx="327.5" cy="308.5" r="1.45" fill="none" stroke="#7a7a7a" stroke-width="0.7"/>
<circle cx="330.5" cy="308.6" r="1.45" fill="none" stroke="#7a7a7a" stroke-width="0.7"/>
<circle cx="333.5" cy="308.7" r="1.45" fill="none" stroke="#7a7a7a" stroke-width="0.7"/>
<circle cx="336.5" cy="308.8" r="1.45" fill="none" stroke="#7a7a7a" stroke-width="0.7"/>
<circle cx="339.5" cy="308.9" r="1.45" fill="none" stroke="#7a7a7a" stroke-width="0.7"/>
<circle cx="342.5" cy="309.0" r="1.45" fill="none" stroke="#7a7a7a" stroke-width="0.7"/>
<circle cx="345.5" cy="309.1" r="1.45" fill="none" stroke="#7a7a7a" stroke-width="0.7"/>
<circle cx="348.5" cy="309.2" r="1.45" fill="none" stroke="#7a7a7a" stroke-width="0.7"/>
<circle cx="351.5" cy="309.2" r="1.45" fill="none" stroke="#7a7a7a" stroke-width="0.7"/>
<circle cx="354.5" cy="309.2" r="1.45" fill="none" stroke="#7a7a7a" stroke-width="0.7"/>
<circle cx="357.5" cy="309.3" r="1.45" fill="none" stroke="#7a7a7a" stroke-width="0.7"/>
<circle cx="360.5" cy="309.3" r="1.45" fill="none" stroke="#7a7a7a" stroke-width="0.7"/>
<circle cx="363.5" cy="309.4" r="1.45" fill="none" stroke="#7a7a7a" stroke-width="0.7"/>
<circle cx="366.5" cy="309.4" r="1.45" fill="none" stroke="#7a7a7a" stroke-width="0.7"/>
<circle cx="369.5" cy="309.5" r="1.45" fill="none" stroke="#7a7a7a" stroke-width="0.7"/>
<circle cx="372.5" cy="309.5" r="1.45" fill="none" stroke="#7a7a7a" stroke-width="0.7"/>
<circle cx="375.5" cy="309.6" r="1.45" fill="none" stroke="#7a7a7a" stroke-width="0.7"/>
<circle cx="378.5" cy="309.6" r="1.45" fill="none" stroke="#7a7a7a" stroke-width="0.7"/>
<circle cx="381.5" cy="309.7" r="1.45" fill="none" stroke="#7a7a7a" stroke-width="0.7"/>
<circle cx="384.5" cy="309.7" r="1.45" fill="none" stroke="#7a7a7a" stroke-width="0.7"/>
<circle cx="387.5" cy="309.8" r="1.45" fill="none" stroke="#7a7a7a" stroke-width="0.7"/>
<circle cx="390.5" cy="309.8" r="1.45" fill="none" stroke="#7a7a7a" stroke-width="0.7"/>
<circle cx="393.5" cy="309.9" r="1.45" fill="none" stroke="#7a7a7a" stroke-width="0.7"/>
<circle cx="396.5" cy="309.9" r="1.45" fill="none" stroke="#7a7a7a" stroke-width="0.7"/>
<circle cx="399.5" cy="310.0" r="1.45" fill="none" stroke="#7a7a7a" stroke-width="0.7"/>
<circle cx="402.5" cy="310.0" r="1.45" fill="none" stroke="#7a7a7a" stroke-width="0.7"/>
<circle cx="405.5" cy="310.1" r="1.45" fill="none" stroke="#7a7a7a" stroke-width="0.7"/>
<circle cx="408.5" cy="310.1" r="1.45" fill="none" stroke="#7a7a7a" stroke-width="0.7"/>
<circle cx="411.5" cy="310.2" r="1.45" fill="none" stroke="#7a7a7a" stroke-width="0.7"/>
<circle cx="414.5" cy="310.2" r="1.45" fill="none" stroke="#7a7a7a" stroke-width="0.7"/>
<circle cx="417.5" cy="310.2" r="1.45" fill="none" stroke="#7a7a7a" stroke-width="0.7"/>
<circle cx="420.5" cy="310.3" r="1.45" fill="none" stroke="#7a7a7a" stroke-width="0.7"/>
<circle cx="423.5" cy="310.3" r="1.45" fill="none" stroke="#7a7a7a" stroke-width="0.7"/>
<circle cx="426.5" cy="310.4" r="1.45" fill="none" stroke="#7a7a7a" stroke-width="0.7"/>
<circle cx="429.5" cy="310.4" r="1.45" fill="none" stroke="#7a7a7a" stroke-width="0.7"/>
<circle cx="432.5" cy="310.5" r="1.45" fill="none" stroke="#7a7a7a" stroke-width="0.7"/>
<circle cx="435.5" cy="310.5" r="1.45" fill="none" stroke="#7a7a7a" stroke-width="0.7"/>
<circle cx="438.5" cy="310.6" r="1.45" fill="none" stroke="#7a7a7a" stroke-width="0.7"/>
<circle cx="269.9" cy="280.7" r="1.45" fill="none" stroke="#f26a6a" stroke-width="0.7"/>
<circle cx="272.0" cy="284.6" r="1.45" fill="none" stroke="#f26a6a" stroke-width="0.7"/>
<circle cx="274.0" cy="287.8" r="1.45" fill="none" stroke="#f26a6a" stroke-width="0.7"/>
<circle cx="276.0" cy="290.2" r="1.45" fill="none" stroke="#f26a6a" stroke-width="0.7"/>
<circle cx="278.2" cy="292.6" r="1.45" fill="none" stroke="#f26a6a" stroke-width="0.7"/>
<circle cx="280.5" cy="294.6" r="1.45" fill="none" stroke="#f26a6a" stroke-width="0.7"/>
<circle cx="283.0" cy="296.4" r="1.45" fill="none" stroke="#f26a6a" stroke-width="0.7"/>
<circle cx="285.6" cy="297.9" r="1.45" fill="none" stroke="#f26a6a" stroke-width="0.7"/>
<circle cx="288.4" cy="299.2" r="1.45" fill="none" stroke="#f26a6a" stroke-width="0.7"/>
<circle cx="291.4" cy="300.0" r="1.45" fill="none" stroke="#f26a6a" stroke-width="0.7"/>
<circle cx="294.4" cy="300.8" r="1.45" fill="none" stroke="#f26a6a" stroke-width="0.7"/>
<circle cx="297.4" cy="301.6" r="1.45" fill="none" stroke="#f26a6a" stroke-width="0.7"/>
<circle cx="300.4" cy="302.4" r="1.45" fill="none" stroke="#f26a6a" stroke-width="0.7"/>
<circle cx="303.4" cy="302.8" r="1.45" fill="none" stroke="#f26a6a" stroke-width="0.7"/>
<circle cx="306.4" cy="303.3" r="1.45" fill="none" stroke="#f26a6a" stroke-width="0.7"/>
<circle cx="309.4" cy="303.7" r="1.45" fill="none" stroke="#f26a6a" stroke-width="0.7"/>
<circle cx="312.4" cy="304.2" r="1.45" fill="none" stroke="#f26a6a" stroke-width="0.7"/>
<circle cx="315.4" cy="304.6" r="1.45" fill="none" stroke="#f26a6a" stroke-width="0.7"/>
<circle cx="318.4" cy="305.1" r="1.45" fill="none" stroke="#f26a6a" stroke-width="0.7"/>
<circle cx="321.4" cy="305.4" r="1.45" fill="none" stroke="#f26a6a" stroke-width="0.7"/>
<circle cx="324.4" cy="305.7" r="1.45" fill="none" stroke="#f26a6a" stroke-width="0.7"/>
<circle cx="327.4" cy="305.9" r="1.45" fill="none" stroke="#f26a6a" stroke-width="0.7"/>
<circle cx="330.4" cy="306.1" r="1.45" fill="none" stroke="#f26a6a" stroke-width="0.7"/>
<circle cx="333.4" cy="306.4" r="1.45" fill="none" stroke="#f26a6a" stroke-width="0.7"/>
<circle cx="336.4" cy="306.6" r="1.45" fill="none" stroke="#f26a6a" stroke-width="0.7"/>
<circle cx="339.4" cy="306.9" r="1.45" fill="none" stroke="#f26a6a" stroke-width="0.7"/>
<circle cx="342.4" cy="307.1" r="1.45" fill="none" stroke="#f26a6a" stroke-width="0.7"/>
<circle cx="345.4" cy="307.3" r="1.45" fill="none" stroke="#f26a6a" stroke-width="0.7"/>
<circle cx="348.4" cy="307.4" r="1.45" fill="none" stroke="#f26a6a" stroke-width="0.7"/>
<circle cx="351.4" cy="307.5" r="1.45" fill="none" stroke="#f26a6a" stroke-width="0.7"/>
<circle cx="354.4" cy="307.6" r="1.45" fill="none" stroke="#f26a6a" stroke-width="0.7"/>
<circle cx="357.4" cy="307.7" r="1.45" fill="none" stroke="#f26a6a" stroke-width="0.7"/>
<circle cx="360.4" cy="307.8" r="1.45" fill="none" stroke="#f26a6a" stroke-width="0.7"/>
<circle cx="363.4" cy="307.9" r="1.45" fill="none" stroke="#f26a6a" stroke-width="0.7"/>
<circle cx="366.4" cy="308.0" r="1.45" fill="none" stroke="#f26a6a" stroke-width="0.7"/>
<circle cx="369.4" cy="308.1" r="1.45" fill="none" stroke="#f26a6a" stroke-width="0.7"/>
<circle cx="372.4" cy="308.1" r="1.45" fill="none" stroke="#f26a6a" stroke-width="0.7"/>
<circle cx="375.4" cy="308.2" r="1.45" fill="none" stroke="#f26a6a" stroke-width="0.7"/>
<circle cx="378.4" cy="308.3" r="1.45" fill="none" stroke="#f26a6a" stroke-width="0.7"/>
<circle cx="381.4" cy="308.4" r="1.45" fill="none" stroke="#f26a6a" stroke-width="0.7"/>
<circle cx="384.4" cy="308.5" r="1.45" fill="none" stroke="#f26a6a" stroke-width="0.7"/>
<circle cx="387.4" cy="308.6" r="1.45" fill="none" stroke="#f26a6a" stroke-width="0.7"/>
<circle cx="390.4" cy="308.7" r="1.45" fill="none" stroke="#f26a6a" stroke-width="0.7"/>
<circle cx="393.4" cy="308.8" r="1.45" fill="none" stroke="#f26a6a" stroke-width="0.7"/>
<circle cx="396.4" cy="308.9" r="1.45" fill="none" stroke="#f26a6a" stroke-width="0.7"/>
<circle cx="399.4" cy="309.0" r="1.45" fill="none" stroke="#f26a6a" stroke-width="0.7"/>
<circle cx="402.4" cy="309.1" r="1.45" fill="none" stroke="#f26a6a" stroke-width="0.7"/>
<circle cx="405.4" cy="309.1" r="1.45" fill="none" stroke="#f26a6a" stroke-width="0.7"/>
<circle cx="408.4" cy="309.2" r="1.45" fill="none" stroke="#f26a6a" stroke-width="0.7"/>
<circle cx="411.4" cy="309.3" r="1.45" fill="none" stroke="#f26a6a" stroke-width="0.7"/>
<circle cx="414.4" cy="309.4" r="1.45" fill="none" stroke="#f26a6a" stroke-width="0.7"/>
<circle cx="417.4" cy="309.4" r="1.45" fill="none" stroke="#f26a6a" stroke-width="0.7"/>
<circle cx="420.4" cy="309.5" r="1.45" fill="none" stroke="#f26a6a" stroke-width="0.7"/>
<circle cx="423.4" cy="309.6" r="1.45" fill="none" stroke="#f26a6a" stroke-width="0.7"/>
<circle cx="426.4" cy="309.7" r="1.45" fill="none" stroke="#f26a6a" stroke-width="0.7"/>
<circle cx="429.4" cy="309.7" r="1.45" fill="none" stroke="#f26a6a" stroke-width="0.7"/>
<circle cx="432.4" cy="309.8" r="1.45" fill="none" stroke="#f26a6a" stroke-width="0.7"/>
<circle cx="435.4" cy="309.9" r="1.45" fill="none" stroke="#f26a6a" stroke-width="0.7"/>
<circle cx="438.4" cy="310.0" r="1.45" fill="none" stroke="#f26a6a" stroke-width="0.7"/>
<circle cx="269.7" cy="201.9" r="1.45" fill="none" stroke="#4a8ef0" stroke-width="0.7"/>
<circle cx="272.0" cy="216.3" r="1.45" fill="none" stroke="#4a8ef0" stroke-width="0.7"/>
<circle cx="274.2" cy="229.6" r="1.45" fill="none" stroke="#4a8ef0" stroke-width="0.7"/>
<circle cx="275.5" cy="241.8" r="1.45" fill="none" stroke="#4a8ef0" stroke-width="0.7"/>
<circle cx="277.2" cy="252.7" r="1.45" fill="none" stroke="#4a8ef0" stroke-width="0.7"/>
<circle cx="278.7" cy="262.9" r="1.45" fill="none" stroke="#4a8ef0" stroke-width="0.7"/>
<circle cx="280.2" cy="271.8" r="1.45" fill="none" stroke="#4a8ef0" stroke-width="0.7"/>
<circle cx="282.3" cy="279.1" r="1.45" fill="none" stroke="#4a8ef0" stroke-width="0.7"/>
<circle cx="283.9" cy="285.8" r="1.45" fill="none" stroke="#4a8ef0" stroke-width="0.7"/>
<circle cx="286.0" cy="291.0" r="1.45" fill="none" stroke="#4a8ef0" stroke-width="0.7"/>
<circle cx="288.1" cy="295.5" r="1.45" fill="none" stroke="#4a8ef0" stroke-width="0.7"/>
<circle cx="290.2" cy="298.3" r="1.45" fill="none" stroke="#4a8ef0" stroke-width="0.7"/>
<circle cx="292.6" cy="300.1" r="1.45" fill="none" stroke="#4a8ef0" stroke-width="0.7"/>
<circle cx="295.2" cy="301.4" r="1.45" fill="none" stroke="#4a8ef0" stroke-width="0.7"/>
<circle cx="298.0" cy="301.8" r="1.45" fill="none" stroke="#4a8ef0" stroke-width="0.7"/>
<circle cx="301.0" cy="302.3" r="1.45" fill="none" stroke="#4a8ef0" stroke-width="0.7"/>
<circle cx="304.0" cy="302.7" r="1.45" fill="none" stroke="#4a8ef0" stroke-width="0.7"/>
<circle cx="307.0" cy="303.2" r="1.45" fill="none" stroke="#4a8ef0" stroke-width="0.7"/>
<circle cx="310.0" cy="303.6" r="1.45" fill="none" stroke="#4a8ef0" stroke-width="0.7"/>
<circle cx="313.0" cy="303.8" r="1.45" fill="none" stroke="#4a8ef0" stroke-width="0.7"/>
<circle cx="316.0" cy="304.1" r="1.45" fill="none" stroke="#4a8ef0" stroke-width="0.7"/>
<circle cx="319.0" cy="304.3" r="1.45" fill="none" stroke="#4a8ef0" stroke-width="0.7"/>
<circle cx="322.0" cy="304.6" r="1.45" fill="none" stroke="#4a8ef0" stroke-width="0.7"/>
<circle cx="325.0" cy="304.8" r="1.45" fill="none" stroke="#4a8ef0" stroke-width="0.7"/>
<circle cx="328.0" cy="305.0" r="1.45" fill="none" stroke="#4a8ef0" stroke-width="0.7"/>
<circle cx="331.0" cy="305.2" r="1.45" fill="none" stroke="#4a8ef0" stroke-width="0.7"/>
<circle cx="334.0" cy="305.4" r="1.45" fill="none" stroke="#4a8ef0" stroke-width="0.7"/>
<circle cx="337.0" cy="305.5" r="1.45" fill="none" stroke="#4a8ef0" stroke-width="0.7"/>
<circle cx="340.0" cy="305.6" r="1.45" fill="none" stroke="#4a8ef0" stroke-width="0.7"/>
<circle cx="343.0" cy="305.7" r="1.45" fill="none" stroke="#4a8ef0" stroke-width="0.7"/>
<circle cx="346.0" cy="305.8" r="1.45" fill="none" stroke="#4a8ef0" stroke-width="0.7"/>
<circle cx="349.0" cy="306.0" r="1.45" fill="none" stroke="#4a8ef0" stroke-width="0.7"/>
<circle cx="352.0" cy="306.1" r="1.45" fill="none" stroke="#4a8ef0" stroke-width="0.7"/>
<circle cx="355.0" cy="306.2" r="1.45" fill="none" stroke="#4a8ef0" stroke-width="0.7"/>
<circle cx="358.0" cy="306.3" r="1.45" fill="none" stroke="#4a8ef0" stroke-width="0.7"/>
<circle cx="361.0" cy="306.4" r="1.45" fill="none" stroke="#4a8ef0" stroke-width="0.7"/>
<circle cx="364.0" cy="306.5" r="1.45" fill="none" stroke="#4a8ef0" stroke-width="0.7"/>
<circle cx="367.0" cy="306.5" r="1.45" fill="none" stroke="#4a8ef0" stroke-width="0.7"/>
<circle cx="370.0" cy="306.5" r="1.45" fill="none" stroke="#4a8ef0" stroke-width="0.7"/>
<circle cx="373.0" cy="306.6" r="1.45" fill="none" stroke="#4a8ef0" stroke-width="0.7"/>
<circle cx="376.0" cy="306.6" r="1.45" fill="none" stroke="#4a8ef0" stroke-width="0.7"/>
<circle cx="379.0" cy="306.7" r="1.45" fill="none" stroke="#4a8ef0" stroke-width="0.7"/>
<circle cx="382.0" cy="306.7" r="1.45" fill="none" stroke="#4a8ef0" stroke-width="0.7"/>
<circle cx="385.0" cy="306.8" r="1.45" fill="none" stroke="#4a8ef0" stroke-width="0.7"/>
<circle cx="388.0" cy="306.8" r="1.45" fill="none" stroke="#4a8ef0" stroke-width="0.7"/>
<circle cx="391.0" cy="306.9" r="1.45" fill="none" stroke="#4a8ef0" stroke-width="0.7"/>
<circle cx="394.0" cy="306.9" r="1.45" fill="none" stroke="#4a8ef0" stroke-width="0.7"/>
<circle cx="397.0" cy="307.0" r="1.45" fill="none" stroke="#4a8ef0" stroke-width="0.7"/>
<circle cx="400.0" cy="307.0" r="1.45" fill="none" stroke="#4a8ef0" stroke-width="0.7"/>
<circle cx="403.0" cy="307.0" r="1.45" fill="none" stroke="#4a8ef0" stroke-width="0.7"/>
<circle cx="406.0" cy="307.1" r="1.45" fill="none" stroke="#4a8ef0" stroke-width="0.7"/>
<circle cx="409.0" cy="307.1" r="1.45" fill="none" stroke="#4a8ef0" stroke-width="0.7"/>
<circle cx="412.0" cy="307.2" r="1.45" fill="none" stroke="#4a8ef0" stroke-width="0.7"/>
<circle cx="415.0" cy="307.2" r="1.45" fill="none" stroke="#4a8ef0" stroke-width="0.7"/>
<circle cx="418.0" cy="307.3" r="1.45" fill="none" stroke="#4a8ef0" stroke-width="0.7"/>
<circle cx="421.0" cy="307.3" r="1.45" fill="none" stroke="#4a8ef0" stroke-width="0.7"/>
<circle cx="424.0" cy="307.4" r="1.45" fill="none" stroke="#4a8ef0" stroke-width="0.7"/>
<circle cx="427.0" cy="307.4" r="1.45" fill="none" stroke="#4a8ef0" stroke-width="0.7"/>
<circle cx="430.0" cy="307.5" r="1.45" fill="none" stroke="#4a8ef0" stroke-width="0.7"/>
<circle cx="433.0" cy="307.5" r="1.45" fill="none" stroke="#4a8ef0" stroke-width="0.7"/>
<circle cx="436.0" cy="307.5" r="1.45" fill="none" stroke="#4a8ef0" stroke-width="0.7"/>
<path d="M269.70,300.20 C270.87,300.38 273.58,300.68 276.70,301.30 C279.82,301.92 283.53,303.08 288.40,303.90 C293.27,304.72 296.47,305.52 305.90,306.20 C315.33,306.88 329.32,307.43 345.00,308.00 C360.68,308.57 384.07,309.20 400.00,309.60 C415.93,310.00 433.83,310.27 440.60,310.40" fill="none" stroke="#3a3a3a" stroke-width="1.3" stroke-linejoin="round" stroke-linecap="round" />
<path d="M269.70,284.60 C270.08,285.03 271.23,286.42 272.00,287.20 C272.77,287.98 273.13,288.27 274.30,289.30 C275.47,290.33 277.23,292.05 279.00,293.40 C280.77,294.75 282.37,296.05 284.90,297.40 C287.43,298.75 290.70,300.32 294.20,301.50 C297.70,302.68 301.03,303.68 305.90,304.50 C310.77,305.32 316.88,305.88 323.40,306.40 C329.92,306.92 332.23,307.10 345.00,307.60 C357.77,308.10 384.07,308.97 400.00,309.40 C415.93,309.83 433.83,310.07 440.60,310.20" fill="none" stroke="#ee3c3c" stroke-width="1.4" stroke-linejoin="round" stroke-linecap="round" />
<path d="M269.70,203.00 C270.08,206.17 271.22,215.83 272.00,222.00 C272.78,228.17 273.75,235.72 274.40,240.00 C275.05,244.28 275.38,245.12 275.90,247.70 C276.42,250.28 276.85,252.65 277.50,255.50 C278.15,258.35 279.00,261.88 279.80,264.80 C280.60,267.72 281.43,270.55 282.30,273.00 C283.17,275.45 283.98,277.57 285.00,279.50 C286.02,281.43 286.87,282.68 288.40,284.60 C289.93,286.52 292.27,289.05 294.20,291.00 C296.13,292.95 297.47,294.63 300.00,296.30 C302.53,297.97 305.90,299.73 309.40,301.00 C312.90,302.27 316.73,303.13 321.00,303.90 C325.27,304.67 331.00,305.22 335.00,305.60 C339.00,305.98 337.50,305.87 345.00,306.20 C352.50,306.53 364.07,307.20 380.00,307.60 C395.93,308.00 430.50,308.43 440.60,308.60" fill="none" stroke="#2a7ae2" stroke-width="1.5" stroke-linejoin="round" stroke-linecap="round" />
<line x1="264.40" y1="181.30" x2="441.60" y2="181.30" stroke="#8c8c8c" stroke-width="1.6" />
<line x1="264.40" y1="180.80" x2="264.40" y2="322.80" stroke="#3a3a3a" stroke-width="1.1" />
<line x1="441.60" y1="180.50" x2="441.60" y2="322.80" stroke="#3a3a3a" stroke-width="1.2" />
<line x1="263.90" y1="322.30" x2="442.10" y2="322.30" stroke="#3a3a3a" stroke-width="1.1" />
<line x1="264.40" y1="322.30" x2="264.40" y2="325.10" stroke="#3a3a3a" stroke-width="1" />
<line x1="286.50" y1="322.30" x2="286.50" y2="324.10" stroke="#3a3a3a" stroke-width="1" />
<line x1="308.60" y1="322.30" x2="308.60" y2="325.10" stroke="#3a3a3a" stroke-width="1" />
<line x1="330.70" y1="322.30" x2="330.70" y2="324.10" stroke="#3a3a3a" stroke-width="1" />
<line x1="352.80" y1="322.30" x2="352.80" y2="325.10" stroke="#3a3a3a" stroke-width="1" />
<line x1="374.90" y1="322.30" x2="374.90" y2="324.10" stroke="#3a3a3a" stroke-width="1" />
<line x1="397.00" y1="322.30" x2="397.00" y2="325.10" stroke="#3a3a3a" stroke-width="1" />
<line x1="419.10" y1="322.30" x2="419.10" y2="324.10" stroke="#3a3a3a" stroke-width="1" />
<line x1="441.20" y1="322.30" x2="441.20" y2="325.10" stroke="#3a3a3a" stroke-width="1" />
<line x1="261.60" y1="310.10" x2="264.40" y2="310.10" stroke="#3a3a3a" stroke-width="1" />
<line x1="262.60" y1="297.20" x2="264.40" y2="297.20" stroke="#3a3a3a" stroke-width="1" />
<line x1="261.60" y1="284.30" x2="264.40" y2="284.30" stroke="#3a3a3a" stroke-width="1" />
<line x1="262.60" y1="271.40" x2="264.40" y2="271.40" stroke="#3a3a3a" stroke-width="1" />
<line x1="261.60" y1="258.50" x2="264.40" y2="258.50" stroke="#3a3a3a" stroke-width="1" />
<line x1="262.60" y1="245.60" x2="264.40" y2="245.60" stroke="#3a3a3a" stroke-width="1" />
<line x1="261.60" y1="232.70" x2="264.40" y2="232.70" stroke="#3a3a3a" stroke-width="1" />
<line x1="262.60" y1="219.80" x2="264.40" y2="219.80" stroke="#3a3a3a" stroke-width="1" />
<line x1="261.60" y1="206.90" x2="264.40" y2="206.90" stroke="#3a3a3a" stroke-width="1" />
<line x1="262.60" y1="194.00" x2="264.40" y2="194.00" stroke="#3a3a3a" stroke-width="1" />
<line x1="261.60" y1="181.10" x2="264.40" y2="181.10" stroke="#3a3a3a" stroke-width="1" />
<text transform="translate(264.4,334.8) scale(1.0,1.1)" font-size="9.4" text-anchor="middle" fill="#111" >0</text>
<text transform="translate(308.6,334.8) scale(1.0,1.1)" font-size="9.4" text-anchor="middle" fill="#111" >1</text>
<text transform="translate(352.8,334.8) scale(1.0,1.1)" font-size="9.4" text-anchor="middle" fill="#111" >2</text>
<text transform="translate(397.0,334.8) scale(1.0,1.1)" font-size="9.4" text-anchor="middle" fill="#111" >3</text>
<text transform="translate(441.2,334.8) scale(1.0,1.1)" font-size="9.4" text-anchor="middle" fill="#111" >4</text>
<text transform="translate(260.0,313.2) scale(1.0,1.14)" font-size="9.5" text-anchor="end" fill="#111" >1.0</text>
<text transform="translate(260.0,287.4) scale(1.0,1.14)" font-size="9.5" text-anchor="end" fill="#111" >1.5</text>
<text transform="translate(260.0,261.6) scale(1.0,1.14)" font-size="9.5" text-anchor="end" fill="#111" >2.0</text>
<text transform="translate(260.0,235.8) scale(1.0,1.14)" font-size="9.5" text-anchor="end" fill="#111" >2.5</text>
<text transform="translate(260.0,210.0) scale(1.0,1.14)" font-size="9.5" text-anchor="end" fill="#111" >3.0</text>
<text transform="translate(260.0,184.2) scale(1.0,1.14)" font-size="9.5" text-anchor="end" fill="#111" >3.5</text>
<text x="336.8" y="347.0" font-size="11.8" text-anchor="start" fill="#111" >L=d/r<tspan font-size="8.4" dy="2.8">T</tspan></text>
<text transform="translate(240.8,270.8) rotate(-90)" font-size="11.8" fill="#111">I<tspan font-size="7.8" dy="2.8">T</tspan><tspan dy="-2.8">=i</tspan><tspan font-size="7.8" dy="2.8">T</tspan><tspan dy="-2.8">/i</tspan><tspan font-size="7.8" dy="2.8">T∞</tspan></text>
<line x1="277.00" y1="189.20" x2="298.00" y2="189.20" stroke="#444" stroke-width="1.3" />
<line x1="277.00" y1="201.00" x2="298.00" y2="201.00" stroke="#f04848" stroke-width="1.3" />
<line x1="277.00" y1="212.20" x2="298.00" y2="212.20" stroke="#2f7de0" stroke-width="1.3" />
<text transform="translate(300.6,192.6) scale(1.0,1.07)" font-size="9.5" text-anchor="start" fill="#111" >CuO</text>
<text transform="translate(300.6,204.3) scale(1.0,1.07)" font-size="9.5" text-anchor="start" fill="#111" >CuO@Fe-N-C</text>
<text transform="translate(300.6,215.6) scale(1.0,1.07)" font-size="9.5" text-anchor="start" fill="#111" >CuO@Pt<tspan font-size="6.3" dy="2.2">NC</tspan><tspan dy="-2.2">/Fe-N-C</tspan></text>
<text x="233.4" y="187.0" font-size="15.2" text-anchor="start" fill="#111" >e</text>
<path d="M386.1,189 L418.3,189 L410.6,224.8 L394.4,224.8 Z" fill="url(#gTip)"/>
<path d="M390.2,191 L414.2,191 L408.4,221.5 L396.6,221.5 Z" fill="#f2f2f2" opacity="0.55"/>
<rect x="400.8" y="189" width="2.0" height="39.5" fill="#a0a0a0"/>
<text x="401.9" y="202.6" font-size="12.3" text-anchor="middle" fill="#111" >Tip</text>
<text x="365.4" y="243.8" font-size="11.6" text-anchor="start" fill="#111" >Fe<tspan font-size="8" dy="-4.4">3+</tspan></text>
<text x="417.0" y="243.8" font-size="11.6" text-anchor="start" fill="#111" >Fe<tspan font-size="8" dy="-4.4">2+</tspan></text>
<path d="M387.9,247.2 L414.4,247.2 Q415.6,247.2 416.4,248.4 L425.6,262.4 L425.6,267.4 Q425.6,269.7 423.2,269.7 L380.6,269.7 Q378.2,269.7 378.2,267.4 L378.2,262.4 L387.4,248.4 Q388.0,247.2 387.9,247.2 Z" fill="url(#gPlat)"/>
<ellipse cx="401.4" cy="252.6" rx="11.4" ry="4.9" fill="#78848e" transform="rotate(0 401.4 252.6)" opacity="1"/>
<path d="M413.4,234.9 A12.0,12.0 0 0 0 391.0,235.3" fill="none" stroke="#8fc47a" stroke-width="2.4"/>
<path d="M391.2,243.9 A12.0,12.0 0 0 0 413.1,244.7" fill="none" stroke="#8fc47a" stroke-width="2.4"/>
<path d="M390.4,237.5 L388.6,233.3 L394.1,235.7 Z" fill="#8fc47a"/>
<path d="M413.9,242.5 L415.3,246.9 L410.1,243.9 Z" fill="#8fc47a"/>
<path d="M392.3,269.8 L409.9,269.8 L414,273.8 L409.9,273.8 L409.9,281 L392.7,281 L392.7,273.8 L388.3,273.8 Z" fill="url(#gLight)"/>
<text x="402.3" y="294.5" font-size="11.4" text-anchor="middle" fill="#111" >light</text>
<rect x="497.9" y="301.54" width="20.70" height="21.66" fill="url(#gDark)"/>
<text transform="translate(508.6,299.8) scale(1.0,1.12)" font-size="9.3" text-anchor="middle" fill="#111" >0.61</text>
<rect x="518.6" y="295.15" width="20.20" height="28.05" fill="url(#gLite)"/>
<text transform="translate(529.0,291.4) scale(1.0,1.12)" font-size="9.3" text-anchor="middle" fill="#111" >0.79</text>
<rect x="556.7" y="293.38" width="20.50" height="29.82" fill="url(#gDark)"/>
<text transform="translate(567.2,292.0) scale(1.0,1.12)" font-size="9.3" text-anchor="middle" fill="#111" >0.84</text>
<rect x="577.2" y="281.66" width="20.40" height="41.54" fill="url(#gLite)"/>
<text transform="translate(587.7,279.2) scale(1.0,1.12)" font-size="9.3" text-anchor="middle" fill="#111" >1.17</text>
<rect x="615.6" y="240.13" width="20.40" height="83.07" fill="url(#gDark)"/>
<text transform="translate(626.1,236.8) scale(1.0,1.12)" font-size="9.3" text-anchor="middle" fill="#111" >2.34</text>
<rect x="636.0" y="193.62" width="20.70" height="129.57" fill="url(#gLite)"/>
<text transform="translate(646.6,190.8) scale(1.0,1.12)" font-size="9.3" text-anchor="middle" fill="#111" >3.65</text>
<line x1="489.00" y1="181.20" x2="666.30" y2="181.20" stroke="#3a3a3a" stroke-width="1.1" />
<line x1="666.30" y1="180.70" x2="666.30" y2="323.70" stroke="#555" stroke-width="1.2" />
<line x1="488.50" y1="323.20" x2="666.80" y2="323.20" stroke="#3a3a3a" stroke-width="1.1" />
<line x1="489.00" y1="180.70" x2="489.00" y2="323.70" stroke="#7c7c7c" stroke-width="1.5" />
<line x1="486.20" y1="323.20" x2="489.00" y2="323.20" stroke="#3a3a3a" stroke-width="1" />
<text transform="translate(484.2,325.4) scale(1.0,1.12)" font-size="9.4" text-anchor="end" fill="#111" >0</text>
<line x1="486.20" y1="287.70" x2="489.00" y2="287.70" stroke="#3a3a3a" stroke-width="1" />
<text transform="translate(484.2,289.9) scale(1.0,1.12)" font-size="9.4" text-anchor="end" fill="#111" >1</text>
<line x1="486.20" y1="252.20" x2="489.00" y2="252.20" stroke="#3a3a3a" stroke-width="1" />
<text transform="translate(484.2,254.4) scale(1.0,1.12)" font-size="9.4" text-anchor="end" fill="#111" >2</text>
<line x1="486.20" y1="216.70" x2="489.00" y2="216.70" stroke="#3a3a3a" stroke-width="1" />
<text transform="translate(484.2,218.9) scale(1.0,1.12)" font-size="9.4" text-anchor="end" fill="#111" >3</text>
<line x1="486.20" y1="181.20" x2="489.00" y2="181.20" stroke="#3a3a3a" stroke-width="1" />
<text transform="translate(484.2,183.4) scale(1.0,1.12)" font-size="9.4" text-anchor="end" fill="#111" >4</text>
<text transform="translate(516.5,332.9) scale(1.0,1.07)" font-size="9.3" text-anchor="middle" fill="#111" >CuO</text>
<text transform="translate(574.3,332.9) scale(1.0,1.07)" font-size="9.3" text-anchor="middle" fill="#111" >CuO@Fe-N-C</text>
<text transform="translate(607.5,332.9) scale(1.0,1.07)" font-size="9.3" text-anchor="start" fill="#111" >CuO@Pt<tspan font-size="6.2" dy="2.2">NC</tspan><tspan dy="-2.2">Fe-N-C</tspan></text>
<rect x="494.7" y="183.9" width="20.9" height="9.9" fill="url(#gDark)"/>
<rect x="494.7" y="198.3" width="20.9" height="10.3" fill="url(#gLite)"/>
<text x="518.0" y="192.3" font-size="9.6" text-anchor="start" fill="#111" >dark</text>
<text x="518.0" y="206.9" font-size="9.6" text-anchor="start" fill="#111" >light</text>
<text transform="translate(473.9,251.9) rotate(-90)" font-size="12.2" text-anchor="middle" fill="#111"><tspan font-style="italic">K</tspan><tspan font-style="italic" font-size="7.8" dy="2.6">eff</tspan><tspan dy="-2.6"> (10</tspan><tspan font-size="7.8" dy="-4.4">-2</tspan><tspan dy="4.4"> cm*s</tspan><tspan font-size="7.8" dy="-4.4">-1</tspan><tspan dy="4.4">)</tspan></text>
<text x="459.6" y="187.6" font-size="16" text-anchor="start" fill="#111" >f</text>
<rect x="34.2" y="357.6" width="303.8" height="157.6" fill="none" stroke="#7684a6" stroke-width="1.2"/>
<text x="11.8" y="365.2" font-size="16.2" text-anchor="start" fill="#111" >g</text>
<text x="118.0" y="375.1" font-size="16.6" text-anchor="start" fill="#111" ><tspan font-style="italic">p</tspan>-type semiconductor</text>
<rect x="39.40" y="384.90" width="44.60" height="21.00" fill="#cdf7f1" />
<text transform="translate(61.1,400.9) scale(1.0,1.13)" font-size="11.9" text-anchor="middle" fill="#111" >CB</text>
<rect x="39.40" y="467.00" width="44.60" height="21.30" fill="#cdf7f1" />
<text transform="translate(63.5,481.8) scale(1.0,1.13)" font-size="11.9" text-anchor="middle" fill="#111" >VB</text>
<line x1="38.8" y1="458.4" x2="84.2" y2="458.4" stroke="#f21414" stroke-width="2.5" stroke-dasharray="8.2,6.3" stroke-dashoffset="0"/>
<text x="56.1" y="450.6" font-size="13.2" text-anchor="start" fill="#111" ><tspan font-style="italic">E</tspan><tspan font-style="italic" font-size="9.2" dy="2.6">F</tspan></text>
<rect x="89.90" y="427.60" width="44.90" height="63.00" fill="#f0f0f0" />
<line x1="91.1" y1="426.3" x2="131.0" y2="426.3" stroke="#f21414" stroke-width="2.5" stroke-dasharray="8.2,6.3" stroke-dashoffset="0"/>
<rect x="144.80" y="436.60" width="44.60" height="51.60" fill="#cde2fb" />
<line x1="145.5" y1="436.2" x2="188.0" y2="436.2" stroke="#f21414" stroke-width="2.5" stroke-dasharray="8.2,6.3" stroke-dashoffset="0"/>
<text x="113.4" y="504.7" font-size="12.5" text-anchor="middle" fill="#111" >Before contact</text>
<rect x="203.80" y="384.90" width="42.00" height="24.00" fill="#cdf7f1" />
<path d="M203.8,408.6 C215,407.6 230,409 245.8,414.8 L245.8,405 L203.8,405 Z" fill="#cdf7f1"/>
<rect x="203.80" y="467.00" width="42.80" height="23.30" fill="#cdf7f1" />
<path d="M203.8,465.2 C215,464.4 230,465.6 246.6,469.9 L246.6,470 L203.8,470 Z" fill="#cdf7f1"/>
<rect x="247.00" y="424.90" width="44.40" height="61.90" fill="#f0f0f0" />
<rect x="291.40" y="436.10" width="44.50" height="50.70" fill="#cde2fb" />
<path d="M204.2,408.6 C212,408.2 220,409.4 227,412.2 C234,415.6 240,421 245.6,428.6" fill="none" stroke="#f21414" stroke-width="2.3"/>
<path d="M204.2,465.2 C212,464.8 221,466 228,468.8 C236,472.4 242,477.6 248.2,484.6" fill="none" stroke="#f21414" stroke-width="2.3"/>
<path d="M203.8,408.6 C215,407.6 230,409 245.8,414.8" fill="none" stroke="#8e8e8e" stroke-width="1.9"/>
<path d="M203.8,465.2 C215,464.4 230,465.6 246.6,469.9" fill="none" stroke="#8e8e8e" stroke-width="1.9"/>
<line x1="203.8" y1="429.8" x2="285.0" y2="429.8" stroke="#f21414" stroke-width="2.5" stroke-dasharray="8.2,6.3" stroke-dashoffset="0"/>
<line x1="292.0" y1="450.1" x2="330.0" y2="450.1" stroke="#f21414" stroke-width="2.5" stroke-dasharray="8.2,6.3" stroke-dashoffset="0"/>
<path d="M280.6,432.3 L290.6,442.6" stroke="#f21414" stroke-width="2.4"/>
<path d="M295.2,446.6 L286.4,444.0 L293.8,438.8 Z" fill="#f21414"/>
<line x1="239.90" y1="416.10" x2="244.90" y2="416.10" stroke="#f21414" stroke-width="2.1" />
<line x1="239.90" y1="438.40" x2="244.90" y2="438.40" stroke="#f21414" stroke-width="2.1" />
<line x1="239.90" y1="460.60" x2="244.90" y2="460.60" stroke="#f21414" stroke-width="2.1" />
<line x1="249.30" y1="438.40" x2="257.90" y2="438.40" stroke="#f21414" stroke-width="2.1" />
<line x1="253.60" y1="434.10" x2="253.60" y2="442.70" stroke="#f21414" stroke-width="2.1" />
<line x1="249.30" y1="460.60" x2="257.90" y2="460.60" stroke="#f21414" stroke-width="2.1" />
<line x1="253.60" y1="456.30" x2="253.60" y2="464.90" stroke="#f21414" stroke-width="2.1" />
<line x1="249.30" y1="482.70" x2="257.90" y2="482.70" stroke="#f21414" stroke-width="2.1" />
<line x1="253.60" y1="478.40" x2="253.60" y2="487.00" stroke="#f21414" stroke-width="2.1" />
<text x="221.6" y="404.1" font-size="12.2" text-anchor="start" fill="#111" >e<tspan font-size="8.4" dy="-4.6">-</tspan></text>
<text x="262.4" y="421.9" font-size="12.2" text-anchor="start" fill="#111" >e<tspan font-size="8.4" dy="-4.6">-</tspan></text>
<text x="309.2" y="444.7" font-size="12.2" text-anchor="start" fill="#111" >e<tspan font-size="8.4" dy="-4.6">-</tspan></text>
<text x="218.6" y="445.1" font-size="13.2" text-anchor="start" fill="#111" ><tspan font-style="italic">E</tspan><tspan font-style="italic" font-size="9.2" dy="2.6">F</tspan></text>
<text x="270.4" y="464.5" font-size="12.2" text-anchor="start" fill="#111" >h<tspan font-size="8.4" dy="-4.6">+</tspan></text>
<text x="272.2" y="504.6" font-size="12.5" text-anchor="middle" fill="#111" >After contact</text>
<rect x="360.6" y="358.2" width="304" height="157.2" fill="none" stroke="#7684a6" stroke-width="1.2"/>
<text x="346.4" y="364.6" font-size="15.6" text-anchor="start" fill="#111" >h</text>
<text x="431.3" y="374.2" font-size="16.6" text-anchor="start" fill="#111" ><tspan font-style="italic">n</tspan>-type semiconductor</text>
<rect x="365.00" y="389.30" width="40.50" height="20.60" fill="#cdf7f1" />
<text transform="translate(385.6,405.4) scale(1.0,1.13)" font-size="11.9" text-anchor="middle" fill="#111" >CB</text>
<rect x="365.00" y="470.50" width="40.50" height="20.90" fill="#cdf7f1" />
<text transform="translate(388.4,485.5) scale(1.0,1.13)" font-size="12.2" text-anchor="middle" fill="#111" >VB</text>
<line x1="364.3" y1="421.2" x2="404.0" y2="421.2" stroke="#f21414" stroke-width="2.5" stroke-dasharray="8.2,6.3" stroke-dashoffset="0"/>
<text x="379.2" y="439.2" font-size="13.2" text-anchor="start" fill="#111" ><tspan font-style="italic">E</tspan><tspan font-style="italic" font-size="9.2" dy="2.6">F</tspan></text>
<rect x="413.20" y="453.20" width="40.90" height="37.60" fill="#f0f0f0" />
<line x1="414.2" y1="452.6" x2="454.0" y2="452.6" stroke="#f21414" stroke-width="2.5" stroke-dasharray="8.2,6.3" stroke-dashoffset="0"/>
<rect x="461.50" y="442.20" width="40.90" height="48.60" fill="#cde2fb" />
<line x1="462.5" y1="441.6" x2="502.0" y2="441.6" stroke="#f21414" stroke-width="2.5" stroke-dasharray="8.2,6.3" stroke-dashoffset="0"/>
<text x="436.8" y="508.1" font-size="12.5" text-anchor="middle" fill="#111" >Before contact</text>
<rect x="525.30" y="389.70" width="41.10" height="14.00" fill="#cdf7f1" />
<path d="M525.3,410.3 C540,410 552,408.5 566.4,403.7 L566.4,400 L525.3,400 Z" fill="#cdf7f1"/>
<rect x="525.30" y="470.00" width="41.10" height="19.70" fill="#cdf7f1" />
<path d="M525.3,470.2 C540,470 552,468.5 566.4,463.7 L566.4,472 L525.3,472 Z" fill="#cdf7f1"/>
<rect x="566.40" y="454.60" width="40.40" height="35.10" fill="#f0f0f0" />
<rect x="606.80" y="435.40" width="41.90" height="54.30" fill="#cde2fb" />
<path d="M525.3,410.3 C540,410 552,408.5 566.4,403.7" fill="none" stroke="#8e8e8e" stroke-width="1.9"/>
<path d="M525.3,470.2 C540,470 552,468.5 566.4,463.7" fill="none" stroke="#8e8e8e" stroke-width="1.9"/>
<path d="M525.3,410.1 C537,409.6 548,406 554,402 C560,398.5 563.5,396 566.4,393.5" fill="none" stroke="#f21414" stroke-width="2.3"/>
<path d="M525.3,469.7 C537,469.2 548,466 554,462.7 C560,459 563.5,456 566.4,452.7" fill="none" stroke="#f21414" stroke-width="2.3"/>
<line x1="525.3" y1="453.1" x2="606.4" y2="453.1" stroke="#f21414" stroke-width="2.5" stroke-dasharray="8.2,6.3" stroke-dashoffset="0"/>
<line x1="609.4" y1="435.5" x2="649.0" y2="435.5" stroke="#f21414" stroke-width="2.5" stroke-dasharray="8.2,6.3" stroke-dashoffset="0"/>
<path d="M594.5,448.8 L605.4,441.6" stroke="#f21414" stroke-width="2.4"/>
<path d="M610.8,437.6 L606.6,445.4 L601.8,439.4 Z" fill="#f21414"/>
<line x1="560.40" y1="402.40" x2="569.00" y2="402.40" stroke="#f21414" stroke-width="2.1" />
<line x1="564.70" y1="398.10" x2="564.70" y2="406.70" stroke="#f21414" stroke-width="2.1" />
<line x1="560.40" y1="424.80" x2="569.00" y2="424.80" stroke="#f21414" stroke-width="2.1" />
<line x1="564.70" y1="420.50" x2="564.70" y2="429.10" stroke="#f21414" stroke-width="2.1" />
<line x1="560.40" y1="446.70" x2="569.00" y2="446.70" stroke="#f21414" stroke-width="2.1" />
<line x1="564.70" y1="442.40" x2="564.70" y2="451.00" stroke="#f21414" stroke-width="2.1" />
<line x1="570.40" y1="445.00" x2="575.40" y2="445.00" stroke="#f21414" stroke-width="2.1" />
<line x1="570.40" y1="466.90" x2="575.40" y2="466.90" stroke="#f21414" stroke-width="2.1" />
<line x1="570.40" y1="489.30" x2="575.40" y2="489.30" stroke="#f21414" stroke-width="2.1" />
<text x="536.8" y="442.9" font-size="13.2" text-anchor="start" fill="#111" ><tspan font-style="italic">E</tspan><tspan font-style="italic" font-size="9.2" dy="2.6">F</tspan></text>
<text x="544.8" y="483.9" font-size="12.2" text-anchor="start" fill="#111" >h<tspan font-size="8.4" dy="-4.6">+</tspan></text>
<text x="584.6" y="468.6" font-size="12.2" text-anchor="start" fill="#111" >h<tspan font-size="8.4" dy="-4.6">+</tspan></text>
<text x="625.0" y="457.3" font-size="12.2" text-anchor="start" fill="#111" >h<tspan font-size="8.4" dy="-4.6">+</tspan></text>
<text x="591.6" y="508.1" font-size="12.5" text-anchor="middle" fill="#111" >After contact</text>
</svg></body></html>
